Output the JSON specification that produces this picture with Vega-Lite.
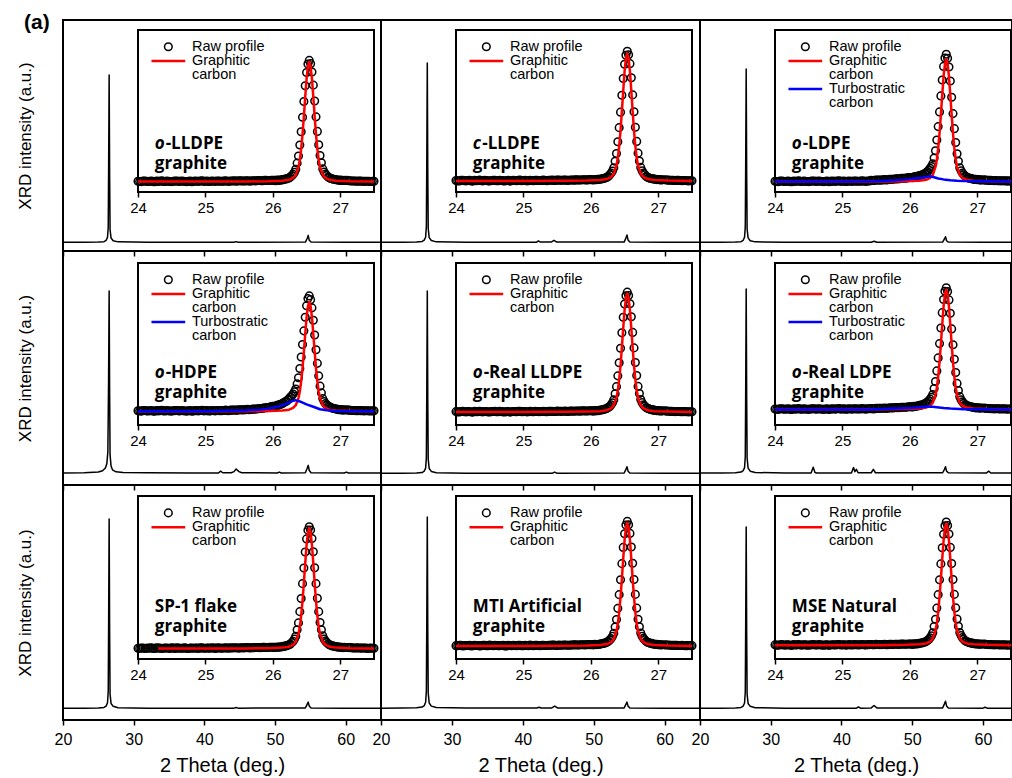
{
"$schema":"https://vega.github.io/schema/vega-lite/v6.json",
"padding":{"left":15,"top":10,"right":0,"bottom":0},
"background":"#ffffff",
"config":{
"view":{"stroke":"#000","strokeWidth":2},
"axis":{"grid":false,"domain":false,"labelFlush":false,"labelOverlap":false,"labelFont":"Liberation Sans","titleFont":"Liberation Sans","titleFontWeight":"normal","labelColor":"#000","titleColor":"#000","tickColor":"#000"},
"text":{"font":"Liberation Sans","color":"#000","fontSize":14},
"point":{"shape":"circle","filled":false,"size":58,"strokeWidth":1.5,"color":"#000","opacity":1},
"line":{"strokeJoin":"round"}
},
"datasets":{
"m1":[{"t":20,"i":0.003},{"t":23,"i":0.003},{"t":25,"i":0.004},{"t":25.8,"i":0.006},{"t":26.1,"i":0.012},{"t":26.3,"i":0.025},{"t":26.4,"i":0.07},{"t":26.46,"i":0.35},{"t":26.53,"i":0.753},{"t":26.6,"i":0.3},{"t":26.66,"i":0.06},{"t":26.8,"i":0.022},{"t":27.1,"i":0.01},{"t":27.8,"i":0.005},{"t":32,"i":0.003},{"t":44.2,"i":0.003},{"t":44.5,"i":0.006},{"t":44.8,"i":0.003},{"t":54.3,"i":0.004},{"t":54.55,"i":0.02},{"t":54.7,"i":0.034},{"t":54.85,"i":0.012},{"t":55.1,"i":0.004},{"t":60,"i":0.003},{"t":65,"i":0.003}],
"m2":[{"t":20,"i":0.003},{"t":23,"i":0.003},{"t":25,"i":0.004},{"t":25.8,"i":0.007},{"t":26.1,"i":0.013},{"t":26.3,"i":0.027},{"t":26.4,"i":0.075},{"t":26.46,"i":0.38},{"t":26.53,"i":0.807},{"t":26.6,"i":0.32},{"t":26.66,"i":0.065},{"t":26.8,"i":0.024},{"t":27.1,"i":0.011},{"t":27.8,"i":0.005},{"t":32,"i":0.003},{"t":41.9,"i":0.003},{"t":42.2,"i":0.009},{"t":42.5,"i":0.004},{"t":44,"i":0.004},{"t":44.4,"i":0.012},{"t":44.8,"i":0.004},{"t":54.3,"i":0.004},{"t":54.55,"i":0.022},{"t":54.7,"i":0.036},{"t":54.85,"i":0.013},{"t":55.1,"i":0.004},{"t":60,"i":0.003},{"t":65,"i":0.003}],
"m3":[{"t":20,"i":0.003},{"t":23,"i":0.003},{"t":25,"i":0.004},{"t":25.8,"i":0.006},{"t":26.1,"i":0.012},{"t":26.3,"i":0.026},{"t":26.4,"i":0.072},{"t":26.46,"i":0.36},{"t":26.53,"i":0.78},{"t":26.6,"i":0.31},{"t":26.66,"i":0.062},{"t":26.8,"i":0.023},{"t":27.1,"i":0.01},{"t":27.8,"i":0.005},{"t":32,"i":0.003},{"t":44.2,"i":0.003},{"t":44.6,"i":0.008},{"t":45,"i":0.003},{"t":54.3,"i":0.004},{"t":54.55,"i":0.018},{"t":54.7,"i":0.028},{"t":54.85,"i":0.01},{"t":55.1,"i":0.004},{"t":60,"i":0.003},{"t":65,"i":0.003}],
"m4":[{"t":20,"i":0.004},{"t":23,"i":0.005},{"t":25,"i":0.008},{"t":25.6,"i":0.014},{"t":26,"i":0.026},{"t":26.2,"i":0.045},{"t":26.35,"i":0.1},{"t":26.45,"i":0.42},{"t":26.53,"i":0.82},{"t":26.6,"i":0.36},{"t":26.66,"i":0.085},{"t":26.8,"i":0.035},{"t":27,"i":0.018},{"t":27.5,"i":0.009},{"t":28.5,"i":0.006},{"t":32,"i":0.005},{"t":38,"i":0.004},{"t":42,"i":0.004},{"t":42.3,"i":0.012},{"t":42.6,"i":0.005},{"t":43.8,"i":0.005},{"t":44.2,"i":0.01},{"t":44.5,"i":0.022},{"t":44.9,"i":0.01},{"t":45.3,"i":0.005},{"t":50.3,"i":0.004},{"t":50.6,"i":0.008},{"t":50.9,"i":0.004},{"t":54.3,"i":0.005},{"t":54.55,"i":0.025},{"t":54.7,"i":0.038},{"t":54.85,"i":0.015},{"t":55.1,"i":0.005},{"t":59.8,"i":0.004},{"t":60.1,"i":0.008},{"t":60.4,"i":0.004},{"t":65,"i":0.004}],
"m5":[{"t":20,"i":0.003},{"t":23,"i":0.003},{"t":25,"i":0.004},{"t":25.8,"i":0.006},{"t":26.1,"i":0.012},{"t":26.3,"i":0.026},{"t":26.4,"i":0.075},{"t":26.46,"i":0.38},{"t":26.53,"i":0.82},{"t":26.6,"i":0.33},{"t":26.66,"i":0.065},{"t":26.8,"i":0.024},{"t":27.1,"i":0.011},{"t":27.8,"i":0.005},{"t":32,"i":0.003},{"t":44.2,"i":0.003},{"t":44.5,"i":0.008},{"t":44.8,"i":0.003},{"t":54.3,"i":0.004},{"t":54.55,"i":0.02},{"t":54.7,"i":0.032},{"t":54.85,"i":0.012},{"t":55.1,"i":0.004},{"t":60,"i":0.003},{"t":65,"i":0.003}],
"m6":[{"t":20,"i":0.004},{"t":23,"i":0.004},{"t":25,"i":0.005},{"t":25.8,"i":0.008},{"t":26.1,"i":0.014},{"t":26.3,"i":0.028},{"t":26.4,"i":0.078},{"t":26.46,"i":0.38},{"t":26.53,"i":0.83},{"t":26.6,"i":0.34},{"t":26.66,"i":0.07},{"t":26.8,"i":0.026},{"t":27.1,"i":0.012},{"t":27.8,"i":0.006},{"t":32,"i":0.004},{"t":35.7,"i":0.004},{"t":36,"i":0.03},{"t":36.25,"i":0.006},{"t":36.5,"i":0.004},{"t":41.4,"i":0.004},{"t":41.7,"i":0.028},{"t":41.9,"i":0.01},{"t":42.1,"i":0.02},{"t":42.35,"i":0.005},{"t":44.2,"i":0.005},{"t":44.5,"i":0.02},{"t":44.8,"i":0.005},{"t":54.3,"i":0.005},{"t":54.55,"i":0.02},{"t":54.7,"i":0.032},{"t":54.85,"i":0.012},{"t":55.1,"i":0.005},{"t":60.5,"i":0.004},{"t":60.8,"i":0.012},{"t":61.1,"i":0.004},{"t":65,"i":0.004}],
"m7":[{"t":20,"i":0.003},{"t":23,"i":0.003},{"t":25,"i":0.004},{"t":25.8,"i":0.006},{"t":26.1,"i":0.012},{"t":26.3,"i":0.027},{"t":26.4,"i":0.078},{"t":26.46,"i":0.4},{"t":26.53,"i":0.848},{"t":26.6,"i":0.34},{"t":26.66,"i":0.066},{"t":26.8,"i":0.024},{"t":27.1,"i":0.011},{"t":27.8,"i":0.005},{"t":32,"i":0.003},{"t":44.2,"i":0.003},{"t":44.5,"i":0.006},{"t":44.8,"i":0.003},{"t":54.3,"i":0.004},{"t":54.55,"i":0.02},{"t":54.7,"i":0.03},{"t":54.85,"i":0.012},{"t":55.1,"i":0.004},{"t":60,"i":0.003},{"t":65,"i":0.003}],
"m8":[{"t":20,"i":0.003},{"t":23,"i":0.004},{"t":25,"i":0.005},{"t":25.8,"i":0.008},{"t":26.1,"i":0.014},{"t":26.3,"i":0.03},{"t":26.4,"i":0.08},{"t":26.46,"i":0.4},{"t":26.53,"i":0.857},{"t":26.6,"i":0.35},{"t":26.66,"i":0.07},{"t":26.8,"i":0.026},{"t":27.1,"i":0.012},{"t":27.8,"i":0.006},{"t":32,"i":0.004},{"t":42,"i":0.004},{"t":42.3,"i":0.007},{"t":42.6,"i":0.004},{"t":44.1,"i":0.004},{"t":44.5,"i":0.012},{"t":44.9,"i":0.004},{"t":54.3,"i":0.004},{"t":54.55,"i":0.02},{"t":54.7,"i":0.03},{"t":54.85,"i":0.012},{"t":55.1,"i":0.004},{"t":60,"i":0.003},{"t":65,"i":0.003}],
"m9":[{"t":20,"i":0.003},{"t":23,"i":0.003},{"t":25,"i":0.004},{"t":25.8,"i":0.006},{"t":26.1,"i":0.012},{"t":26.3,"i":0.026},{"t":26.4,"i":0.075},{"t":26.46,"i":0.38},{"t":26.53,"i":0.812},{"t":26.6,"i":0.33},{"t":26.66,"i":0.065},{"t":26.8,"i":0.024},{"t":27.1,"i":0.011},{"t":27.8,"i":0.005},{"t":32,"i":0.003},{"t":42.1,"i":0.003},{"t":42.4,"i":0.008},{"t":42.7,"i":0.003},{"t":44.2,"i":0.004},{"t":44.6,"i":0.015},{"t":45,"i":0.004},{"t":54.3,"i":0.004},{"t":54.55,"i":0.022},{"t":54.7,"i":0.034},{"t":54.85,"i":0.013},{"t":55.1,"i":0.004},{"t":60,"i":0.003},{"t":60.3,"i":0.007},{"t":60.6,"i":0.003},{"t":65,"i":0.003}],
"r1":[{"t":24,"i":0.6},{"t":24.05,"i":0.3},{"t":24.1,"i":0.8},{"t":24.15,"i":0.4},{"t":24.2,"i":0.7},{"t":24.25,"i":0.2},{"t":24.3,"i":0.5},{"t":24.35,"i":0.9},{"t":24.4,"i":0.4},{"t":24.45,"i":0.6},{"t":24.5,"i":0.3},{"t":24.55,"i":0.7},{"t":24.6,"i":0.5},{"t":24.65,"i":0.8},{"t":24.7,"i":0.4},{"t":24.75,"i":0.6},{"t":24.8,"i":0.2},{"t":24.85,"i":0.7},{"t":24.9,"i":0.5},{"t":24.95,"i":0.9},{"t":25,"i":0.6},{"t":25.05,"i":0.4},{"t":25.1,"i":0.8},{"t":25.15,"i":0.5},{"t":25.2,"i":0.7},{"t":25.25,"i":0.6},{"t":25.3,"i":0.9},{"t":25.35,"i":0.5},{"t":25.4,"i":0.8},{"t":25.45,"i":0.7},{"t":25.5,"i":1.0},{"t":25.55,"i":0.8},{"t":25.6,"i":0.9},{"t":25.65,"i":0.7},{"t":25.7,"i":1.0},{"t":25.75,"i":0.9},{"t":25.8,"i":1.1},{"t":25.85,"i":1.0},{"t":25.9,"i":1.2},{"t":25.95,"i":1.1},{"t":26,"i":1.3},{"t":26.02,"i":1.2},{"t":26.04,"i":1.0},{"t":26.06,"i":1.4},{"t":26.08,"i":1.2},{"t":26.1,"i":1.5},{"t":26.12,"i":1.4},{"t":26.14,"i":1.8},{"t":26.16,"i":1.8},{"t":26.18,"i":2.2},{"t":26.2,"i":2.3},{"t":26.22,"i":2.8},{"t":26.24,"i":3.1},{"t":26.26,"i":3.9},{"t":26.28,"i":4.7},{"t":26.3,"i":5.9},{"t":26.32,"i":7.5},{"t":26.34,"i":9.8},{"t":26.36,"i":14.5},{"t":26.38,"i":20.0},{"t":26.4,"i":28.4},{"t":26.42,"i":38.6},{"t":26.44,"i":49.8},{"t":26.46,"i":61.9},{"t":26.48,"i":74.0},{"t":26.5,"i":84.2},{"t":26.52,"i":90.7},{"t":26.54,"i":93.5},{"t":26.56,"i":91.0},{"t":26.58,"i":84.6},{"t":26.6,"i":74.5},{"t":26.62,"i":62.3},{"t":26.64,"i":50.1},{"t":26.66,"i":38.9},{"t":26.68,"i":28.6},{"t":26.7,"i":20.3},{"t":26.72,"i":14.8},{"t":26.74,"i":10.1},{"t":26.76,"i":7.7},{"t":26.78,"i":6.1},{"t":26.8,"i":4.9},{"t":26.82,"i":3.8},{"t":26.84,"i":3.2},{"t":26.86,"i":2.7},{"t":26.88,"i":2.4},{"t":26.9,"i":2.1},{"t":26.92,"i":1.9},{"t":26.94,"i":1.7},{"t":26.96,"i":1.5},{"t":26.98,"i":1.3},{"t":27,"i":1.4},{"t":27.02,"i":1.2},{"t":27.04,"i":1.1},{"t":27.06,"i":1.2},{"t":27.1,"i":1.2},{"t":27.15,"i":0.9},{"t":27.2,"i":0.8},{"t":27.25,"i":0.6},{"t":27.3,"i":0.7},{"t":27.35,"i":0.5},{"t":27.4,"i":0.6},{"t":27.45,"i":0.4},{"t":27.5,"i":0.5},
{"t":24.025,"i":0.4},{"t":24.075,"i":0.7},{"t":24.125,"i":0.5},{"t":24.175,"i":0.6},{"t":24.225,"i":0.3},{"t":24.275,"i":0.8},{"t":24.325,"i":0.6},{"t":24.375,"i":0.5},{"t":24.425,"i":0.7},{"t":24.475,"i":0.4},{"t":24.525,"i":0.6},{"t":24.575,"i":0.8},{"t":24.625,"i":0.5},{"t":24.675,"i":0.6},{"t":24.725,"i":0.3},{"t":24.775,"i":0.7},{"t":24.825,"i":0.5},{"t":24.875,"i":0.6},{"t":24.925,"i":0.8},{"t":24.975,"i":0.5},{"t":25.025,"i":0.7},{"t":25.075,"i":0.5},{"t":25.125,"i":0.6},{"t":25.175,"i":0.8},{"t":25.225,"i":0.6},{"t":25.275,"i":0.7},{"t":25.325,"i":0.6},{"t":25.375,"i":0.8},{"t":25.425,"i":0.9},{"t":25.475,"i":0.7},{"t":25.525,"i":0.9},{"t":25.575,"i":0.8},{"t":25.625,"i":1.0},{"t":25.675,"i":0.8},{"t":25.725,"i":1.0},{"t":25.775,"i":1.1},{"t":25.825,"i":1.0},{"t":25.875,"i":1.2},{"t":25.925,"i":1.1},{"t":25.975,"i":1.3},{"t":27.125,"i":1.0},{"t":27.175,"i":0.8},{"t":27.225,"i":0.7},{"t":27.275,"i":0.7},{"t":27.325,"i":0.6},{"t":27.375,"i":0.6},{"t":27.425,"i":0.5},{"t":27.475,"i":0.5}],
"r2":[{"t":24,"i":1.1},{"t":24.05,"i":0.8},{"t":24.1,"i":1.3},{"t":24.15,"i":0.9},{"t":24.2,"i":1.2},{"t":24.25,"i":0.7},{"t":24.3,"i":1.0},{"t":24.35,"i":1.4},{"t":24.4,"i":0.9},{"t":24.45,"i":1.1},{"t":24.5,"i":0.8},{"t":24.55,"i":1.2},{"t":24.6,"i":1.0},{"t":24.65,"i":1.3},{"t":24.7,"i":0.9},{"t":24.75,"i":1.1},{"t":24.8,"i":0.7},{"t":24.85,"i":1.2},{"t":24.9,"i":1.0},{"t":24.95,"i":1.4},{"t":25,"i":1.1},{"t":25.05,"i":0.9},{"t":25.1,"i":1.3},{"t":25.15,"i":1.0},{"t":25.2,"i":1.2},{"t":25.25,"i":1.1},{"t":25.3,"i":1.4},{"t":25.35,"i":1.0},{"t":25.4,"i":1.3},{"t":25.45,"i":1.2},{"t":25.5,"i":1.5},{"t":25.55,"i":1.3},{"t":25.6,"i":1.4},{"t":25.65,"i":1.2},{"t":25.7,"i":1.5},{"t":25.75,"i":1.4},{"t":25.8,"i":1.6},{"t":25.85,"i":1.5},{"t":25.9,"i":1.7},{"t":25.95,"i":1.6},{"t":26,"i":1.8},{"t":26.02,"i":1.7},{"t":26.04,"i":1.5},{"t":26.06,"i":1.9},{"t":26.08,"i":1.7},{"t":26.1,"i":2.0},{"t":26.12,"i":1.9},{"t":26.14,"i":2.3},{"t":26.16,"i":2.3},{"t":26.18,"i":2.7},{"t":26.2,"i":2.8},{"t":26.22,"i":3.3},{"t":26.24,"i":3.6},{"t":26.26,"i":4.4},{"t":26.28,"i":5.5},{"t":26.3,"i":6.8},{"t":26.32,"i":8.5},{"t":26.34,"i":11.0},{"t":26.36,"i":15.9},{"t":26.38,"i":21.9},{"t":26.4,"i":30.9},{"t":26.42,"i":41.8},{"t":26.44,"i":53.7},{"t":26.46,"i":66.7},{"t":26.48,"i":79.6},{"t":26.5,"i":90.6},{"t":26.52,"i":97.5},{"t":26.54,"i":100.5},{"t":26.56,"i":97.8},{"t":26.58,"i":91.0},{"t":26.6,"i":80.1},{"t":26.62,"i":67.0},{"t":26.64,"i":54.0},{"t":26.66,"i":42.1},{"t":26.68,"i":31.2},{"t":26.7,"i":22.2},{"t":26.72,"i":16.1},{"t":26.74,"i":11.2},{"t":26.76,"i":8.6},{"t":26.78,"i":6.9},{"t":26.8,"i":5.6},{"t":26.82,"i":4.3},{"t":26.84,"i":3.7},{"t":26.86,"i":3.2},{"t":26.88,"i":2.9},{"t":26.9,"i":2.6},{"t":26.92,"i":2.4},{"t":26.94,"i":2.2},{"t":26.96,"i":2.0},{"t":26.98,"i":1.8},{"t":27,"i":1.9},{"t":27.02,"i":1.7},{"t":27.04,"i":1.6},{"t":27.06,"i":1.7},{"t":27.1,"i":1.7},{"t":27.15,"i":1.4},{"t":27.2,"i":1.3},{"t":27.25,"i":1.1},{"t":27.3,"i":1.2},{"t":27.35,"i":1.0},{"t":27.4,"i":1.1},{"t":27.45,"i":0.9},{"t":27.5,"i":1.0},
{"t":24.025,"i":0.9},{"t":24.075,"i":1.2},{"t":24.125,"i":1.0},{"t":24.175,"i":1.1},{"t":24.225,"i":0.8},{"t":24.275,"i":1.3},{"t":24.325,"i":1.1},{"t":24.375,"i":1.0},{"t":24.425,"i":1.2},{"t":24.475,"i":0.9},{"t":24.525,"i":1.1},{"t":24.575,"i":1.3},{"t":24.625,"i":1.0},{"t":24.675,"i":1.1},{"t":24.725,"i":0.8},{"t":24.775,"i":1.2},{"t":24.825,"i":1.0},{"t":24.875,"i":1.1},{"t":24.925,"i":1.3},{"t":24.975,"i":1.0},{"t":25.025,"i":1.2},{"t":25.075,"i":1.0},{"t":25.125,"i":1.1},{"t":25.175,"i":1.3},{"t":25.225,"i":1.1},{"t":25.275,"i":1.2},{"t":25.325,"i":1.1},{"t":25.375,"i":1.3},{"t":25.425,"i":1.4},{"t":25.475,"i":1.2},{"t":25.525,"i":1.4},{"t":25.575,"i":1.3},{"t":25.625,"i":1.5},{"t":25.675,"i":1.3},{"t":25.725,"i":1.5},{"t":25.775,"i":1.6},{"t":25.825,"i":1.5},{"t":25.875,"i":1.7},{"t":25.925,"i":1.6},{"t":25.975,"i":1.8},{"t":27.125,"i":1.5},{"t":27.175,"i":1.3},{"t":27.225,"i":1.2},{"t":27.275,"i":1.2},{"t":27.325,"i":1.1},{"t":27.375,"i":1.1},{"t":27.425,"i":1.0},{"t":27.475,"i":1.0}],
"r3":[{"t":24,"i":0.6},{"t":24.05,"i":0.3},{"t":24.1,"i":0.8},{"t":24.15,"i":0.4},{"t":24.2,"i":0.7},{"t":24.25,"i":0.2},{"t":24.3,"i":0.5},{"t":24.35,"i":0.9},{"t":24.4,"i":0.4},{"t":24.45,"i":0.6},{"t":24.5,"i":0.3},{"t":24.55,"i":0.7},{"t":24.6,"i":0.5},{"t":24.65,"i":0.8},{"t":24.7,"i":0.4},{"t":24.75,"i":0.6},{"t":24.8,"i":0.2},{"t":24.85,"i":0.7},{"t":24.9,"i":0.5},{"t":24.95,"i":0.9},{"t":25,"i":0.6},{"t":25.05,"i":0.4},{"t":25.1,"i":0.8},{"t":25.15,"i":0.5},{"t":25.2,"i":0.7},{"t":25.25,"i":0.6},{"t":25.3,"i":0.9},{"t":25.35,"i":0.5},{"t":25.4,"i":0.8},{"t":25.45,"i":1.1},{"t":25.5,"i":1.5},{"t":25.55,"i":1.4},{"t":25.6,"i":1.6},{"t":25.65,"i":1.6},{"t":25.7,"i":2.0},{"t":25.75,"i":2.1},{"t":25.8,"i":2.4},{"t":25.85,"i":2.5},{"t":25.9,"i":2.9},{"t":25.95,"i":3.0},{"t":26,"i":3.5},{"t":26.02,"i":3.5},{"t":26.04,"i":3.4},{"t":26.06,"i":3.9},{"t":26.08,"i":3.9},{"t":26.1,"i":4.3},{"t":26.12,"i":4.3},{"t":26.14,"i":4.9},{"t":26.16,"i":5.0},{"t":26.18,"i":5.6},{"t":26.2,"i":5.8},{"t":26.22,"i":6.5},{"t":26.24,"i":7.0},{"t":26.26,"i":8.0},{"t":26.28,"i":9.1},{"t":26.3,"i":10.5},{"t":26.32,"i":11.9},{"t":26.34,"i":14.0},{"t":26.36,"i":18.5},{"t":26.38,"i":24.0},{"t":26.4,"i":32.3},{"t":26.42,"i":42.6},{"t":26.44,"i":53.9},{"t":26.46,"i":66.2},{"t":26.48,"i":78.4},{"t":26.5,"i":88.9},{"t":26.52,"i":95.4},{"t":26.54,"i":98.2},{"t":26.56,"i":95.2},{"t":26.58,"i":88.4},{"t":26.6,"i":77.7},{"t":26.62,"i":65.2},{"t":26.64,"i":52.6},{"t":26.66,"i":41.0},{"t":26.68,"i":30.4},{"t":26.7,"i":21.7},{"t":26.72,"i":15.9},{"t":26.74,"i":11.0},{"t":26.76,"i":8.6},{"t":26.78,"i":6.9},{"t":26.8,"i":5.6},{"t":26.82,"i":4.6},{"t":26.84,"i":3.8},{"t":26.86,"i":3.4},{"t":26.88,"i":2.9},{"t":26.9,"i":2.8},{"t":26.92,"i":2.4},{"t":26.94,"i":2.3},{"t":26.96,"i":1.9},{"t":26.98,"i":2.0},{"t":27,"i":1.7},{"t":27.02,"i":1.9},{"t":27.04,"i":1.5},{"t":27.06,"i":1.6},{"t":27.1,"i":1.6},{"t":27.15,"i":1.3},{"t":27.2,"i":1.2},{"t":27.25,"i":1.0},{"t":27.3,"i":1.0},{"t":27.35,"i":0.9},{"t":27.4,"i":0.9},{"t":27.45,"i":0.7},{"t":27.5,"i":0.8},
{"t":24.025,"i":0.4},{"t":24.075,"i":0.7},{"t":24.125,"i":0.5},{"t":24.175,"i":0.6},{"t":24.225,"i":0.3},{"t":24.275,"i":0.8},{"t":24.325,"i":0.6},{"t":24.375,"i":0.5},{"t":24.425,"i":0.7},{"t":24.475,"i":0.4},{"t":24.525,"i":0.6},{"t":24.575,"i":0.8},{"t":24.625,"i":0.5},{"t":24.675,"i":0.6},{"t":24.725,"i":0.3},{"t":24.775,"i":0.7},{"t":24.825,"i":0.5},{"t":24.875,"i":0.6},{"t":24.925,"i":0.8},{"t":24.975,"i":0.5},{"t":25.025,"i":0.7},{"t":25.075,"i":0.5},{"t":25.125,"i":0.6},{"t":25.175,"i":0.8},{"t":25.225,"i":0.6},{"t":25.275,"i":0.7},{"t":25.325,"i":0.6},{"t":25.375,"i":0.8},{"t":25.425,"i":1.3},{"t":25.475,"i":1.2},{"t":25.525,"i":1.5},{"t":25.575,"i":1.5},{"t":25.625,"i":1.8},{"t":25.675,"i":1.7},{"t":25.725,"i":2.1},{"t":25.775,"i":2.3},{"t":25.825,"i":2.4},{"t":25.875,"i":2.8},{"t":25.925,"i":2.9},{"t":25.975,"i":3.4},{"t":27.125,"i":1.4},{"t":27.175,"i":1.2},{"t":27.225,"i":1.1},{"t":27.275,"i":1.1},{"t":27.325,"i":1.0},{"t":27.375,"i":1.0},{"t":27.425,"i":0.9},{"t":27.475,"i":0.9}],
"r4":[{"t":24,"i":3.3},{"t":24.05,"i":3.0},{"t":24.1,"i":3.5},{"t":24.15,"i":3.1},{"t":24.2,"i":3.4},{"t":24.25,"i":2.9},{"t":24.3,"i":3.2},{"t":24.35,"i":3.6},{"t":24.4,"i":3.1},{"t":24.45,"i":3.3},{"t":24.5,"i":3.0},{"t":24.55,"i":3.4},{"t":24.6,"i":3.2},{"t":24.65,"i":3.5},{"t":24.7,"i":3.1},{"t":24.75,"i":3.3},{"t":24.8,"i":2.9},{"t":24.85,"i":3.4},{"t":24.9,"i":3.2},{"t":24.95,"i":3.6},{"t":25,"i":3.3},{"t":25.05,"i":3.1},{"t":25.1,"i":3.5},{"t":25.15,"i":3.2},{"t":25.2,"i":3.4},{"t":25.25,"i":3.4},{"t":25.3,"i":3.7},{"t":25.35,"i":3.4},{"t":25.4,"i":3.7},{"t":25.45,"i":3.7},{"t":25.5,"i":4.0},{"t":25.55,"i":3.9},{"t":25.6,"i":4.1},{"t":25.65,"i":4.0},{"t":25.7,"i":4.5},{"t":25.75,"i":4.5},{"t":25.8,"i":4.9},{"t":25.85,"i":5.1},{"t":25.9,"i":5.6},{"t":25.95,"i":5.9},{"t":26,"i":6.6},{"t":26.02,"i":6.7},{"t":26.04,"i":6.7},{"t":26.06,"i":7.4},{"t":26.08,"i":7.4},{"t":26.1,"i":8.0},{"t":26.12,"i":8.2},{"t":26.14,"i":8.9},{"t":26.16,"i":9.3},{"t":26.18,"i":10.1},{"t":26.2,"i":10.6},{"t":26.22,"i":11.6},{"t":26.24,"i":12.4},{"t":26.26,"i":13.8},{"t":26.28,"i":14.7},{"t":26.3,"i":16.1},{"t":26.32,"i":17.9},{"t":26.34,"i":20.0},{"t":26.36,"i":23.9},{"t":26.38,"i":28.6},{"t":26.4,"i":35.8},{"t":26.42,"i":44.6},{"t":26.44,"i":54.2},{"t":26.46,"i":64.7},{"t":26.48,"i":75.2},{"t":26.5,"i":84.0},{"t":26.52,"i":89.5},{"t":26.54,"i":91.6},{"t":26.56,"i":88.7},{"t":26.58,"i":82.4},{"t":26.6,"i":72.9},{"t":26.62,"i":61.5},{"t":26.64,"i":50.2},{"t":26.66,"i":39.7},{"t":26.68,"i":30.1},{"t":26.7,"i":22.2},{"t":26.72,"i":17.0},{"t":26.74,"i":12.6},{"t":26.76,"i":10.3},{"t":26.78,"i":8.8},{"t":26.8,"i":7.6},{"t":26.82,"i":7.0},{"t":26.84,"i":6.3},{"t":26.86,"i":5.7},{"t":26.88,"i":5.4},{"t":26.9,"i":5.0},{"t":26.92,"i":4.8},{"t":26.94,"i":4.5},{"t":26.96,"i":4.3},{"t":26.98,"i":4.1},{"t":27,"i":4.2},{"t":27.02,"i":3.9},{"t":27.04,"i":3.8},{"t":27.06,"i":3.9},{"t":27.1,"i":3.9},{"t":27.15,"i":3.6},{"t":27.2,"i":3.5},{"t":27.25,"i":3.3},{"t":27.3,"i":3.4},{"t":27.35,"i":3.2},{"t":27.4,"i":3.3},{"t":27.45,"i":3.1},{"t":27.5,"i":3.2},
{"t":24.025,"i":3.1},{"t":24.075,"i":3.4},{"t":24.125,"i":3.2},{"t":24.175,"i":3.3},{"t":24.225,"i":3.0},{"t":24.275,"i":3.5},{"t":24.325,"i":3.3},{"t":24.375,"i":3.2},{"t":24.425,"i":3.4},{"t":24.475,"i":3.1},{"t":24.525,"i":3.3},{"t":24.575,"i":3.5},{"t":24.625,"i":3.2},{"t":24.675,"i":3.3},{"t":24.725,"i":3.0},{"t":24.775,"i":3.4},{"t":24.825,"i":3.2},{"t":24.875,"i":3.3},{"t":24.925,"i":3.5},{"t":24.975,"i":3.2},{"t":25.025,"i":3.4},{"t":25.075,"i":3.2},{"t":25.125,"i":3.3},{"t":25.175,"i":3.5},{"t":25.225,"i":3.3},{"t":25.275,"i":3.5},{"t":25.325,"i":3.4},{"t":25.375,"i":3.7},{"t":25.425,"i":3.8},{"t":25.475,"i":3.7},{"t":25.525,"i":4.0},{"t":25.575,"i":4.0},{"t":25.625,"i":4.3},{"t":25.675,"i":4.2},{"t":25.725,"i":4.5},{"t":25.775,"i":4.8},{"t":25.825,"i":5.0},{"t":25.875,"i":5.5},{"t":25.925,"i":5.7},{"t":25.975,"i":6.4},{"t":27.125,"i":3.7},{"t":27.175,"i":3.5},{"t":27.225,"i":3.4},{"t":27.275,"i":3.4},{"t":27.325,"i":3.3},{"t":27.375,"i":3.3},{"t":27.425,"i":3.2},{"t":27.475,"i":3.2}],
"r5":[{"t":24,"i":2.6},{"t":24.05,"i":2.3},{"t":24.1,"i":2.8},{"t":24.15,"i":2.4},{"t":24.2,"i":2.7},{"t":24.25,"i":2.2},{"t":24.3,"i":2.5},{"t":24.35,"i":2.9},{"t":24.4,"i":2.4},{"t":24.45,"i":2.6},{"t":24.5,"i":2.3},{"t":24.55,"i":2.7},{"t":24.6,"i":2.5},{"t":24.65,"i":2.8},{"t":24.7,"i":2.4},{"t":24.75,"i":2.6},{"t":24.8,"i":2.2},{"t":24.85,"i":2.7},{"t":24.9,"i":2.5},{"t":24.95,"i":2.9},{"t":25,"i":2.6},{"t":25.05,"i":2.4},{"t":25.1,"i":2.8},{"t":25.15,"i":2.5},{"t":25.2,"i":2.7},{"t":25.25,"i":2.6},{"t":25.3,"i":2.9},{"t":25.35,"i":2.5},{"t":25.4,"i":2.8},{"t":25.45,"i":2.7},{"t":25.5,"i":3.0},{"t":25.55,"i":2.8},{"t":25.6,"i":2.9},{"t":25.65,"i":2.7},{"t":25.7,"i":3.0},{"t":25.75,"i":2.9},{"t":25.8,"i":3.1},{"t":25.85,"i":3.0},{"t":25.9,"i":3.2},{"t":25.95,"i":3.1},{"t":26,"i":3.3},{"t":26.02,"i":3.2},{"t":26.04,"i":3.0},{"t":26.06,"i":3.4},{"t":26.08,"i":3.2},{"t":26.1,"i":3.5},{"t":26.12,"i":3.4},{"t":26.14,"i":3.8},{"t":26.16,"i":3.8},{"t":26.18,"i":4.2},{"t":26.2,"i":4.3},{"t":26.22,"i":4.8},{"t":26.24,"i":5.1},{"t":26.26,"i":5.9},{"t":26.28,"i":6.6},{"t":26.3,"i":7.8},{"t":26.32,"i":9.4},{"t":26.34,"i":11.7},{"t":26.36,"i":16.3},{"t":26.38,"i":21.8},{"t":26.4,"i":30.1},{"t":26.42,"i":40.2},{"t":26.44,"i":51.3},{"t":26.46,"i":63.2},{"t":26.48,"i":75.2},{"t":26.5,"i":85.3},{"t":26.52,"i":91.7},{"t":26.54,"i":94.5},{"t":26.56,"i":91.9},{"t":26.58,"i":85.6},{"t":26.6,"i":75.5},{"t":26.62,"i":63.5},{"t":26.64,"i":51.6},{"t":26.66,"i":40.4},{"t":26.68,"i":30.3},{"t":26.7,"i":22.0},{"t":26.72,"i":16.5},{"t":26.74,"i":11.9},{"t":26.76,"i":9.5},{"t":26.78,"i":7.9},{"t":26.8,"i":6.7},{"t":26.82,"i":5.8},{"t":26.84,"i":5.2},{"t":26.86,"i":4.7},{"t":26.88,"i":4.4},{"t":26.9,"i":4.1},{"t":26.92,"i":3.9},{"t":26.94,"i":3.7},{"t":26.96,"i":3.5},{"t":26.98,"i":3.3},{"t":27,"i":3.4},{"t":27.02,"i":3.2},{"t":27.04,"i":3.1},{"t":27.06,"i":3.2},{"t":27.1,"i":3.2},{"t":27.15,"i":2.9},{"t":27.2,"i":2.8},{"t":27.25,"i":2.6},{"t":27.3,"i":2.7},{"t":27.35,"i":2.5},{"t":27.4,"i":2.6},{"t":27.45,"i":2.4},{"t":27.5,"i":2.5},
{"t":24.025,"i":2.4},{"t":24.075,"i":2.7},{"t":24.125,"i":2.5},{"t":24.175,"i":2.6},{"t":24.225,"i":2.3},{"t":24.275,"i":2.8},{"t":24.325,"i":2.6},{"t":24.375,"i":2.5},{"t":24.425,"i":2.7},{"t":24.475,"i":2.4},{"t":24.525,"i":2.6},{"t":24.575,"i":2.8},{"t":24.625,"i":2.5},{"t":24.675,"i":2.6},{"t":24.725,"i":2.3},{"t":24.775,"i":2.7},{"t":24.825,"i":2.5},{"t":24.875,"i":2.6},{"t":24.925,"i":2.8},{"t":24.975,"i":2.5},{"t":25.025,"i":2.7},{"t":25.075,"i":2.5},{"t":25.125,"i":2.6},{"t":25.175,"i":2.8},{"t":25.225,"i":2.6},{"t":25.275,"i":2.7},{"t":25.325,"i":2.6},{"t":25.375,"i":2.8},{"t":25.425,"i":2.9},{"t":25.475,"i":2.7},{"t":25.525,"i":2.9},{"t":25.575,"i":2.8},{"t":25.625,"i":3.0},{"t":25.675,"i":2.8},{"t":25.725,"i":3.0},{"t":25.775,"i":3.1},{"t":25.825,"i":3.0},{"t":25.875,"i":3.2},{"t":25.925,"i":3.1},{"t":25.975,"i":3.3},{"t":27.125,"i":3.0},{"t":27.175,"i":2.8},{"t":27.225,"i":2.7},{"t":27.275,"i":2.7},{"t":27.325,"i":2.6},{"t":27.375,"i":2.6},{"t":27.425,"i":2.5},{"t":27.475,"i":2.5}],
"r6":[{"t":24,"i":4.6},{"t":24.05,"i":4.3},{"t":24.1,"i":4.8},{"t":24.15,"i":4.4},{"t":24.2,"i":4.7},{"t":24.25,"i":4.2},{"t":24.3,"i":4.5},{"t":24.35,"i":4.9},{"t":24.4,"i":4.4},{"t":24.45,"i":4.6},{"t":24.5,"i":4.3},{"t":24.55,"i":4.7},{"t":24.6,"i":4.5},{"t":24.65,"i":4.8},{"t":24.7,"i":4.4},{"t":24.75,"i":4.6},{"t":24.8,"i":4.2},{"t":24.85,"i":4.7},{"t":24.9,"i":4.5},{"t":24.95,"i":4.9},{"t":25,"i":4.6},{"t":25.05,"i":4.4},{"t":25.1,"i":4.8},{"t":25.15,"i":4.5},{"t":25.2,"i":4.7},{"t":25.25,"i":4.6},{"t":25.3,"i":4.9},{"t":25.35,"i":4.5},{"t":25.4,"i":4.8},{"t":25.45,"i":4.7},{"t":25.5,"i":5.2},{"t":25.55,"i":5.1},{"t":25.6,"i":5.2},{"t":25.65,"i":5.1},{"t":25.7,"i":5.5},{"t":25.75,"i":5.4},{"t":25.8,"i":5.7},{"t":25.85,"i":5.7},{"t":25.9,"i":6.0},{"t":25.95,"i":6.0},{"t":26,"i":6.3},{"t":26.02,"i":6.3},{"t":26.04,"i":6.2},{"t":26.06,"i":6.6},{"t":26.08,"i":6.5},{"t":26.1,"i":6.9},{"t":26.12,"i":6.9},{"t":26.14,"i":7.4},{"t":26.16,"i":7.4},{"t":26.18,"i":7.9},{"t":26.2,"i":8.1},{"t":26.22,"i":8.7},{"t":26.24,"i":9.1},{"t":26.26,"i":10.0},{"t":26.28,"i":10.9},{"t":26.3,"i":12.2},{"t":26.32,"i":13.6},{"t":26.34,"i":15.8},{"t":26.36,"i":20.3},{"t":26.38,"i":25.7},{"t":26.4,"i":33.9},{"t":26.42,"i":43.9},{"t":26.44,"i":54.9},{"t":26.46,"i":66.9},{"t":26.48,"i":78.7},{"t":26.5,"i":88.8},{"t":26.52,"i":95.1},{"t":26.54,"i":97.9},{"t":26.56,"i":95.0},{"t":26.58,"i":88.5},{"t":26.6,"i":78.2},{"t":26.62,"i":66.2},{"t":26.64,"i":54.0},{"t":26.66,"i":42.9},{"t":26.68,"i":32.7},{"t":26.7,"i":24.3},{"t":26.72,"i":18.8},{"t":26.74,"i":14.1},{"t":26.76,"i":11.7},{"t":26.78,"i":10.2},{"t":26.8,"i":8.9},{"t":26.82,"i":8.0},{"t":26.84,"i":7.4},{"t":26.86,"i":6.9},{"t":26.88,"i":6.6},{"t":26.9,"i":6.3},{"t":26.92,"i":6.1},{"t":26.94,"i":5.9},{"t":26.96,"i":5.7},{"t":26.98,"i":5.5},{"t":27,"i":5.6},{"t":27.02,"i":5.4},{"t":27.04,"i":5.3},{"t":27.06,"i":5.4},{"t":27.1,"i":5.3},{"t":27.15,"i":5.0},{"t":27.2,"i":4.9},{"t":27.25,"i":4.7},{"t":27.3,"i":4.8},{"t":27.35,"i":4.6},{"t":27.4,"i":4.7},{"t":27.45,"i":4.5},{"t":27.5,"i":4.6},
{"t":24.025,"i":4.4},{"t":24.075,"i":4.7},{"t":24.125,"i":4.5},{"t":24.175,"i":4.6},{"t":24.225,"i":4.3},{"t":24.275,"i":4.8},{"t":24.325,"i":4.6},{"t":24.375,"i":4.5},{"t":24.425,"i":4.7},{"t":24.475,"i":4.4},{"t":24.525,"i":4.6},{"t":24.575,"i":4.8},{"t":24.625,"i":4.5},{"t":24.675,"i":4.6},{"t":24.725,"i":4.3},{"t":24.775,"i":4.7},{"t":24.825,"i":4.5},{"t":24.875,"i":4.6},{"t":24.925,"i":4.8},{"t":24.975,"i":4.5},{"t":25.025,"i":4.7},{"t":25.075,"i":4.5},{"t":25.125,"i":4.6},{"t":25.175,"i":4.8},{"t":25.225,"i":4.6},{"t":25.275,"i":4.7},{"t":25.325,"i":4.6},{"t":25.375,"i":4.8},{"t":25.425,"i":4.9},{"t":25.475,"i":4.7},{"t":25.525,"i":5.1},{"t":25.575,"i":5.1},{"t":25.625,"i":5.3},{"t":25.675,"i":5.2},{"t":25.725,"i":5.5},{"t":25.775,"i":5.7},{"t":25.825,"i":5.7},{"t":25.875,"i":6.0},{"t":25.925,"i":6.0},{"t":25.975,"i":6.3},{"t":27.125,"i":5.1},{"t":27.175,"i":4.9},{"t":27.225,"i":4.8},{"t":27.275,"i":4.8},{"t":27.325,"i":4.7},{"t":27.375,"i":4.7},{"t":27.425,"i":4.6},{"t":27.475,"i":4.6}],
"r7":[{"t":24,"i":0.5},{"t":24.05,"i":0.7},{"t":24.1,"i":0.3},{"t":24.15,"i":0.6},{"t":24.2,"i":0.8},{"t":24.25,"i":0.4},{"t":24.3,"i":0.6},{"t":24.35,"i":0.3},{"t":24.4,"i":0.7},{"t":24.45,"i":0.5},{"t":24.5,"i":0.9},{"t":24.55,"i":0.4},{"t":24.6,"i":0.6},{"t":24.65,"i":0.5},{"t":24.7,"i":0.8},{"t":24.75,"i":0.3},{"t":24.8,"i":0.6},{"t":24.85,"i":0.7},{"t":24.9,"i":0.4},{"t":24.95,"i":0.8},{"t":25,"i":0.5},{"t":25.05,"i":0.6},{"t":25.1,"i":0.9},{"t":25.15,"i":0.4},{"t":25.2,"i":0.7},{"t":25.25,"i":0.5},{"t":25.3,"i":0.8},{"t":25.35,"i":0.6},{"t":25.4,"i":0.7},{"t":25.45,"i":0.9},{"t":25.5,"i":0.6},{"t":25.55,"i":0.8},{"t":25.6,"i":1.0},{"t":25.65,"i":0.8},{"t":25.7,"i":0.9},{"t":25.75,"i":1.1},{"t":25.8,"i":1.0},{"t":25.85,"i":1.2},{"t":25.9,"i":1.1},{"t":25.95,"i":1.3},{"t":26,"i":1.2},{"t":26.02,"i":1.3},{"t":26.04,"i":1.1},{"t":26.06,"i":1.5},{"t":26.08,"i":1.3},{"t":26.1,"i":1.4},{"t":26.12,"i":1.6},{"t":26.14,"i":1.7},{"t":26.16,"i":2.0},{"t":26.18,"i":2.1},{"t":26.2,"i":2.4},{"t":26.22,"i":2.7},{"t":26.24,"i":3.2},{"t":26.26,"i":3.8},{"t":26.28,"i":4.8},{"t":26.3,"i":5.8},{"t":26.32,"i":7.6},{"t":26.34,"i":9.7},{"t":26.36,"i":14.6},{"t":26.38,"i":19.9},{"t":26.4,"i":28.5},{"t":26.42,"i":38.5},{"t":26.44,"i":49.9},{"t":26.46,"i":61.8},{"t":26.48,"i":74.1},{"t":26.5,"i":84.1},{"t":26.52,"i":90.8},{"t":26.54,"i":93.4},{"t":26.56,"i":90.9},{"t":26.58,"i":84.4},{"t":26.6,"i":74.3},{"t":26.62,"i":62.0},{"t":26.64,"i":49.9},{"t":26.66,"i":38.7},{"t":26.68,"i":28.5},{"t":26.7,"i":20.2},{"t":26.72,"i":14.6},{"t":26.74,"i":10.0},{"t":26.76,"i":7.6},{"t":26.78,"i":6.0},{"t":26.8,"i":4.8},{"t":26.82,"i":3.9},{"t":26.84,"i":3.1},{"t":26.86,"i":2.8},{"t":26.88,"i":2.3},{"t":26.9,"i":2.2},{"t":26.92,"i":1.8},{"t":26.94,"i":1.8},{"t":26.96,"i":1.4},{"t":26.98,"i":1.5},{"t":27,"i":1.2},{"t":27.02,"i":1.3},{"t":27.04,"i":1.0},{"t":27.06,"i":1.2},{"t":27.1,"i":1.1},{"t":27.15,"i":1.0},{"t":27.2,"i":0.7},{"t":27.25,"i":0.8},{"t":27.3,"i":0.6},{"t":27.35,"i":0.7},{"t":27.4,"i":0.4},{"t":27.45,"i":0.6},{"t":27.5,"i":0.5},
{"t":24.025,"i":0.4},{"t":24.075,"i":0.7},{"t":24.125,"i":0.5},{"t":24.175,"i":0.6},{"t":24.225,"i":0.3},{"t":24.275,"i":0.8},{"t":24.325,"i":0.6},{"t":24.375,"i":0.5},{"t":24.425,"i":0.7},{"t":24.475,"i":0.4},{"t":24.525,"i":0.6},{"t":24.575,"i":0.8},{"t":24.625,"i":0.5},{"t":24.675,"i":0.6},{"t":24.725,"i":0.3},{"t":24.775,"i":0.7},{"t":24.825,"i":0.5},{"t":24.875,"i":0.6},{"t":24.925,"i":0.8},{"t":24.975,"i":0.5},{"t":25.025,"i":0.7},{"t":25.075,"i":0.5},{"t":25.125,"i":0.6},{"t":25.175,"i":0.8},{"t":25.225,"i":0.6},{"t":25.275,"i":0.7},{"t":25.325,"i":0.6},{"t":25.375,"i":0.8},{"t":25.425,"i":0.9},{"t":25.475,"i":0.7},{"t":25.525,"i":0.9},{"t":25.575,"i":0.8},{"t":25.625,"i":1.0},{"t":25.675,"i":0.8},{"t":25.725,"i":1.0},{"t":25.775,"i":1.1},{"t":25.825,"i":1.0},{"t":25.875,"i":1.2},{"t":25.925,"i":1.1},{"t":25.975,"i":1.3},{"t":27.125,"i":1.0},{"t":27.175,"i":0.8},{"t":27.225,"i":0.7},{"t":27.275,"i":0.7},{"t":27.325,"i":0.6},{"t":27.375,"i":0.6},{"t":27.425,"i":0.5},{"t":27.475,"i":0.5}],
"r8":[{"t":24,"i":2.5},{"t":24.05,"i":2.7},{"t":24.1,"i":2.3},{"t":24.15,"i":2.6},{"t":24.2,"i":2.8},{"t":24.25,"i":2.4},{"t":24.3,"i":2.6},{"t":24.35,"i":2.3},{"t":24.4,"i":2.7},{"t":24.45,"i":2.5},{"t":24.5,"i":2.9},{"t":24.55,"i":2.4},{"t":24.6,"i":2.6},{"t":24.65,"i":2.5},{"t":24.7,"i":2.8},{"t":24.75,"i":2.3},{"t":24.8,"i":2.6},{"t":24.85,"i":2.7},{"t":24.9,"i":2.4},{"t":24.95,"i":2.8},{"t":25,"i":2.5},{"t":25.05,"i":2.6},{"t":25.1,"i":2.9},{"t":25.15,"i":2.4},{"t":25.2,"i":2.7},{"t":25.25,"i":2.5},{"t":25.3,"i":2.8},{"t":25.35,"i":2.6},{"t":25.4,"i":2.7},{"t":25.45,"i":2.9},{"t":25.5,"i":2.6},{"t":25.55,"i":2.8},{"t":25.6,"i":3.0},{"t":25.65,"i":2.8},{"t":25.7,"i":2.9},{"t":25.75,"i":3.1},{"t":25.8,"i":3.0},{"t":25.85,"i":3.2},{"t":25.9,"i":3.1},{"t":25.95,"i":3.3},{"t":26,"i":3.2},{"t":26.02,"i":3.3},{"t":26.04,"i":3.1},{"t":26.06,"i":3.5},{"t":26.08,"i":3.3},{"t":26.1,"i":3.4},{"t":26.12,"i":3.6},{"t":26.14,"i":3.7},{"t":26.16,"i":4.0},{"t":26.18,"i":4.1},{"t":26.2,"i":4.4},{"t":26.22,"i":4.7},{"t":26.24,"i":5.2},{"t":26.26,"i":5.8},{"t":26.28,"i":6.8},{"t":26.3,"i":8.0},{"t":26.32,"i":9.6},{"t":26.34,"i":12.0},{"t":26.36,"i":16.8},{"t":26.38,"i":22.5},{"t":26.4,"i":31.0},{"t":26.42,"i":41.5},{"t":26.44,"i":52.9},{"t":26.46,"i":65.2},{"t":26.48,"i":77.6},{"t":26.5,"i":88.0},{"t":26.52,"i":94.7},{"t":26.54,"i":97.5},{"t":26.56,"i":94.9},{"t":26.58,"i":88.3},{"t":26.6,"i":77.9},{"t":26.62,"i":65.5},{"t":26.64,"i":53.1},{"t":26.66,"i":41.7},{"t":26.68,"i":31.2},{"t":26.7,"i":22.7},{"t":26.72,"i":17.0},{"t":26.74,"i":12.2},{"t":26.76,"i":9.7},{"t":26.78,"i":8.1},{"t":26.8,"i":6.9},{"t":26.82,"i":5.9},{"t":26.84,"i":5.1},{"t":26.86,"i":4.8},{"t":26.88,"i":4.3},{"t":26.9,"i":4.2},{"t":26.92,"i":3.8},{"t":26.94,"i":3.8},{"t":26.96,"i":3.4},{"t":26.98,"i":3.5},{"t":27,"i":3.2},{"t":27.02,"i":3.3},{"t":27.04,"i":3.0},{"t":27.06,"i":3.2},{"t":27.1,"i":3.1},{"t":27.15,"i":3.0},{"t":27.2,"i":2.7},{"t":27.25,"i":2.8},{"t":27.3,"i":2.6},{"t":27.35,"i":2.7},{"t":27.4,"i":2.4},{"t":27.45,"i":2.6},{"t":27.5,"i":2.5},
{"t":24.025,"i":2.4},{"t":24.075,"i":2.7},{"t":24.125,"i":2.5},{"t":24.175,"i":2.6},{"t":24.225,"i":2.3},{"t":24.275,"i":2.8},{"t":24.325,"i":2.6},{"t":24.375,"i":2.5},{"t":24.425,"i":2.7},{"t":24.475,"i":2.4},{"t":24.525,"i":2.6},{"t":24.575,"i":2.8},{"t":24.625,"i":2.5},{"t":24.675,"i":2.6},{"t":24.725,"i":2.3},{"t":24.775,"i":2.7},{"t":24.825,"i":2.5},{"t":24.875,"i":2.6},{"t":24.925,"i":2.8},{"t":24.975,"i":2.5},{"t":25.025,"i":2.7},{"t":25.075,"i":2.5},{"t":25.125,"i":2.6},{"t":25.175,"i":2.8},{"t":25.225,"i":2.6},{"t":25.275,"i":2.7},{"t":25.325,"i":2.6},{"t":25.375,"i":2.8},{"t":25.425,"i":2.9},{"t":25.475,"i":2.7},{"t":25.525,"i":2.9},{"t":25.575,"i":2.8},{"t":25.625,"i":3.0},{"t":25.675,"i":2.8},{"t":25.725,"i":3.0},{"t":25.775,"i":3.1},{"t":25.825,"i":3.0},{"t":25.875,"i":3.2},{"t":25.925,"i":3.1},{"t":25.975,"i":3.3},{"t":27.125,"i":3.0},{"t":27.175,"i":2.8},{"t":27.225,"i":2.7},{"t":27.275,"i":2.7},{"t":27.325,"i":2.6},{"t":27.375,"i":2.6},{"t":27.425,"i":2.5},{"t":27.475,"i":2.5}],
"r9":[{"t":24,"i":3.1},{"t":24.05,"i":2.8},{"t":24.1,"i":3.3},{"t":24.15,"i":2.9},{"t":24.2,"i":3.2},{"t":24.25,"i":2.7},{"t":24.3,"i":3.0},{"t":24.35,"i":3.4},{"t":24.4,"i":2.9},{"t":24.45,"i":3.1},{"t":24.5,"i":2.8},{"t":24.55,"i":3.2},{"t":24.6,"i":3.0},{"t":24.65,"i":3.3},{"t":24.7,"i":2.9},{"t":24.75,"i":3.1},{"t":24.8,"i":2.7},{"t":24.85,"i":3.2},{"t":24.9,"i":3.0},{"t":24.95,"i":3.4},{"t":25,"i":3.1},{"t":25.05,"i":2.9},{"t":25.1,"i":3.3},{"t":25.15,"i":3.0},{"t":25.2,"i":3.2},{"t":25.25,"i":3.1},{"t":25.3,"i":3.4},{"t":25.35,"i":3.0},{"t":25.4,"i":3.3},{"t":25.45,"i":3.2},{"t":25.5,"i":3.5},{"t":25.55,"i":3.3},{"t":25.6,"i":3.4},{"t":25.65,"i":3.2},{"t":25.7,"i":3.5},{"t":25.75,"i":3.4},{"t":25.8,"i":3.6},{"t":25.85,"i":3.5},{"t":25.9,"i":3.7},{"t":25.95,"i":3.6},{"t":26,"i":3.8},{"t":26.02,"i":3.7},{"t":26.04,"i":3.5},{"t":26.06,"i":3.9},{"t":26.08,"i":3.7},{"t":26.1,"i":4.0},{"t":26.12,"i":3.9},{"t":26.14,"i":4.3},{"t":26.16,"i":4.3},{"t":26.18,"i":4.7},{"t":26.2,"i":4.8},{"t":26.22,"i":5.3},{"t":26.24,"i":5.6},{"t":26.26,"i":6.4},{"t":26.28,"i":7.2},{"t":26.3,"i":8.5},{"t":26.32,"i":10.1},{"t":26.34,"i":12.4},{"t":26.36,"i":17.1},{"t":26.38,"i":22.7},{"t":26.4,"i":31.2},{"t":26.42,"i":41.5},{"t":26.44,"i":52.8},{"t":26.46,"i":65.0},{"t":26.48,"i":77.3},{"t":26.5,"i":87.6},{"t":26.52,"i":94.2},{"t":26.54,"i":97.0},{"t":26.56,"i":94.4},{"t":26.58,"i":87.9},{"t":26.6,"i":77.6},{"t":26.62,"i":65.3},{"t":26.64,"i":53.0},{"t":26.66,"i":41.7},{"t":26.68,"i":31.4},{"t":26.7,"i":22.9},{"t":26.72,"i":17.3},{"t":26.74,"i":12.6},{"t":26.76,"i":10.2},{"t":26.78,"i":8.6},{"t":26.8,"i":7.3},{"t":26.82,"i":6.3},{"t":26.84,"i":5.7},{"t":26.86,"i":5.2},{"t":26.88,"i":4.9},{"t":26.9,"i":4.6},{"t":26.92,"i":4.4},{"t":26.94,"i":4.2},{"t":26.96,"i":4.0},{"t":26.98,"i":3.8},{"t":27,"i":3.9},{"t":27.02,"i":3.7},{"t":27.04,"i":3.6},{"t":27.06,"i":3.7},{"t":27.1,"i":3.7},{"t":27.15,"i":3.4},{"t":27.2,"i":3.3},{"t":27.25,"i":3.1},{"t":27.3,"i":3.2},{"t":27.35,"i":3.0},{"t":27.4,"i":3.1},{"t":27.45,"i":2.9},{"t":27.5,"i":3.0},
{"t":24.025,"i":2.9},{"t":24.075,"i":3.2},{"t":24.125,"i":3.0},{"t":24.175,"i":3.1},{"t":24.225,"i":2.8},{"t":24.275,"i":3.3},{"t":24.325,"i":3.1},{"t":24.375,"i":3.0},{"t":24.425,"i":3.2},{"t":24.475,"i":2.9},{"t":24.525,"i":3.1},{"t":24.575,"i":3.3},{"t":24.625,"i":3.0},{"t":24.675,"i":3.1},{"t":24.725,"i":2.8},{"t":24.775,"i":3.2},{"t":24.825,"i":3.0},{"t":24.875,"i":3.1},{"t":24.925,"i":3.3},{"t":24.975,"i":3.0},{"t":25.025,"i":3.2},{"t":25.075,"i":3.0},{"t":25.125,"i":3.1},{"t":25.175,"i":3.3},{"t":25.225,"i":3.1},{"t":25.275,"i":3.2},{"t":25.325,"i":3.1},{"t":25.375,"i":3.3},{"t":25.425,"i":3.4},{"t":25.475,"i":3.2},{"t":25.525,"i":3.4},{"t":25.575,"i":3.3},{"t":25.625,"i":3.5},{"t":25.675,"i":3.3},{"t":25.725,"i":3.5},{"t":25.775,"i":3.6},{"t":25.825,"i":3.5},{"t":25.875,"i":3.7},{"t":25.925,"i":3.6},{"t":25.975,"i":3.8},{"t":27.125,"i":3.5},{"t":27.175,"i":3.3},{"t":27.225,"i":3.2},{"t":27.275,"i":3.2},{"t":27.325,"i":3.1},{"t":27.375,"i":3.1},{"t":27.425,"i":3.0},{"t":27.475,"i":3.0}],
"g1":[{"t":24,"i":0.3},{"t":25,"i":0.3},{"t":25.6,"i":0.4},{"t":25.94,"i":0.6},{"t":26.14,"i":1.0},{"t":26.24,"i":1.7},{"t":26.3,"i":3.1},{"t":26.34,"i":5.4},{"t":26.38,"i":11.5},{"t":26.4,"i":17.0},{"t":26.42,"i":25.4},{"t":26.44,"i":36.6},{"t":26.46,"i":50.5},{"t":26.48,"i":65.4},{"t":26.5,"i":79.4},{"t":26.52,"i":88.7},{"t":26.54,"i":92.4},{"t":26.56,"i":88.7},{"t":26.58,"i":79.4},{"t":26.6,"i":65.4},{"t":26.62,"i":50.5},{"t":26.64,"i":36.6},{"t":26.66,"i":25.4},{"t":26.68,"i":17.0},{"t":26.7,"i":11.5},{"t":26.74,"i":5.4},{"t":26.78,"i":3.1},{"t":26.84,"i":1.7},{"t":26.94,"i":1.0},{"t":27.14,"i":0.6},{"t":27.5,"i":0.3}],
"g2":[{"t":24,"i":0.8},{"t":25,"i":0.8},{"t":25.6,"i":0.9},{"t":25.94,"i":1.1},{"t":26.14,"i":1.5},{"t":26.24,"i":2.3},{"t":26.3,"i":3.8},{"t":26.34,"i":6.2},{"t":26.38,"i":12.7},{"t":26.4,"i":18.6},{"t":26.42,"i":27.5},{"t":26.44,"i":39.4},{"t":26.46,"i":54.3},{"t":26.48,"i":70.1},{"t":26.5,"i":85.0},{"t":26.52,"i":94.9},{"t":26.54,"i":98.8},{"t":26.56,"i":94.9},{"t":26.58,"i":85.0},{"t":26.6,"i":70.1},{"t":26.62,"i":54.3},{"t":26.64,"i":39.4},{"t":26.66,"i":27.5},{"t":26.68,"i":18.6},{"t":26.7,"i":12.7},{"t":26.74,"i":6.2},{"t":26.78,"i":3.8},{"t":26.84,"i":2.3},{"t":26.94,"i":1.5},{"t":27.14,"i":1.1},{"t":27.5,"i":0.8}],
"g3":[{"t":24,"i":0.3},{"t":25,"i":0.3},{"t":25.6,"i":0.4},{"t":25.94,"i":0.6},{"t":26.14,"i":1.0},{"t":26.24,"i":1.7},{"t":26.3,"i":3.2},{"t":26.34,"i":5.5},{"t":26.38,"i":11.7},{"t":26.4,"i":17.4},{"t":26.42,"i":26.0},{"t":26.44,"i":37.4},{"t":26.46,"i":51.6},{"t":26.48,"i":66.8},{"t":26.5,"i":81.1},{"t":26.52,"i":90.6},{"t":26.54,"i":94.4},{"t":26.56,"i":90.6},{"t":26.58,"i":81.1},{"t":26.6,"i":66.8},{"t":26.62,"i":51.6},{"t":26.64,"i":37.4},{"t":26.66,"i":26.0},{"t":26.68,"i":17.4},{"t":26.7,"i":11.7},{"t":26.74,"i":5.5},{"t":26.78,"i":3.2},{"t":26.84,"i":1.7},{"t":26.94,"i":1.0},{"t":27.14,"i":0.6},{"t":27.5,"i":0.3}],
"g4":[{"t":24,"i":2.8},{"t":25,"i":2.8},{"t":25.6,"i":2.9},{"t":25.94,"i":3.1},{"t":26.14,"i":3.4},{"t":26.24,"i":4.1},{"t":26.3,"i":5.4},{"t":26.34,"i":7.5},{"t":26.38,"i":13.0},{"t":26.4,"i":18.1},{"t":26.42,"i":25.8},{"t":26.44,"i":36.0},{"t":26.46,"i":48.7},{"t":26.48,"i":62.3},{"t":26.5,"i":75.1},{"t":26.52,"i":83.6},{"t":26.54,"i":87.0},{"t":26.56,"i":83.6},{"t":26.58,"i":75.1},{"t":26.6,"i":62.3},{"t":26.62,"i":48.7},{"t":26.64,"i":36.0},{"t":26.66,"i":25.8},{"t":26.68,"i":18.1},{"t":26.7,"i":13.0},{"t":26.74,"i":7.5},{"t":26.78,"i":5.4},{"t":26.84,"i":4.1},{"t":26.94,"i":3.4},{"t":27.14,"i":3.1},{"t":27.5,"i":2.8}],
"g5":[{"t":24,"i":2.3},{"t":25,"i":2.3},{"t":25.6,"i":2.4},{"t":25.94,"i":2.6},{"t":26.14,"i":2.9},{"t":26.24,"i":3.7},{"t":26.3,"i":5.1},{"t":26.34,"i":7.4},{"t":26.38,"i":13.3},{"t":26.4,"i":18.9},{"t":26.42,"i":27.1},{"t":26.44,"i":38.2},{"t":26.46,"i":52.0},{"t":26.48,"i":66.7},{"t":26.5,"i":80.5},{"t":26.52,"i":89.7},{"t":26.54,"i":93.4},{"t":26.56,"i":89.7},{"t":26.58,"i":80.5},{"t":26.6,"i":66.7},{"t":26.62,"i":52.0},{"t":26.64,"i":38.2},{"t":26.66,"i":27.1},{"t":26.68,"i":18.9},{"t":26.7,"i":13.3},{"t":26.74,"i":7.4},{"t":26.78,"i":5.1},{"t":26.84,"i":3.7},{"t":26.94,"i":2.9},{"t":27.14,"i":2.6},{"t":27.5,"i":2.3}],
"g6":[{"t":24,"i":4.3},{"t":25,"i":4.3},{"t":25.6,"i":4.4},{"t":25.94,"i":4.6},{"t":26.14,"i":5.0},{"t":26.24,"i":5.7},{"t":26.3,"i":7.1},{"t":26.34,"i":9.4},{"t":26.38,"i":15.5},{"t":26.4,"i":21.0},{"t":26.42,"i":29.4},{"t":26.44,"i":40.6},{"t":26.46,"i":54.5},{"t":26.48,"i":69.4},{"t":26.5,"i":83.4},{"t":26.52,"i":92.7},{"t":26.54,"i":96.4},{"t":26.56,"i":92.7},{"t":26.58,"i":83.4},{"t":26.6,"i":69.4},{"t":26.62,"i":54.5},{"t":26.64,"i":40.6},{"t":26.66,"i":29.4},{"t":26.68,"i":21.0},{"t":26.7,"i":15.5},{"t":26.74,"i":9.4},{"t":26.78,"i":7.1},{"t":26.84,"i":5.7},{"t":26.94,"i":5.0},{"t":27.14,"i":4.6},{"t":27.5,"i":4.3}],
"g7":[{"t":24.3,"i":0.3},{"t":25,"i":0.3},{"t":25.6,"i":0.4},{"t":25.94,"i":0.6},{"t":26.14,"i":1.0},{"t":26.24,"i":1.7},{"t":26.3,"i":3.1},{"t":26.34,"i":5.4},{"t":26.38,"i":11.5},{"t":26.4,"i":17.0},{"t":26.42,"i":25.4},{"t":26.44,"i":36.6},{"t":26.46,"i":50.5},{"t":26.48,"i":65.4},{"t":26.5,"i":79.4},{"t":26.52,"i":88.7},{"t":26.54,"i":92.4},{"t":26.56,"i":88.7},{"t":26.58,"i":79.4},{"t":26.6,"i":65.4},{"t":26.62,"i":50.5},{"t":26.64,"i":36.6},{"t":26.66,"i":25.4},{"t":26.68,"i":17.0},{"t":26.7,"i":11.5},{"t":26.74,"i":5.4},{"t":26.78,"i":3.1},{"t":26.84,"i":1.7},{"t":26.94,"i":1.0},{"t":27.14,"i":0.6},{"t":27.5,"i":0.3}],
"g8":[{"t":24,"i":2.3},{"t":25,"i":2.3},{"t":25.6,"i":2.4},{"t":25.94,"i":2.6},{"t":26.14,"i":3.0},{"t":26.24,"i":3.7},{"t":26.3,"i":5.2},{"t":26.34,"i":7.5},{"t":26.38,"i":13.7},{"t":26.4,"i":19.4},{"t":26.42,"i":28.0},{"t":26.44,"i":39.4},{"t":26.46,"i":53.6},{"t":26.48,"i":68.8},{"t":26.5,"i":83.1},{"t":26.52,"i":92.6},{"t":26.54,"i":96.4},{"t":26.56,"i":92.6},{"t":26.58,"i":83.1},{"t":26.6,"i":68.8},{"t":26.62,"i":53.6},{"t":26.64,"i":39.4},{"t":26.66,"i":28.0},{"t":26.68,"i":19.4},{"t":26.7,"i":13.7},{"t":26.74,"i":7.5},{"t":26.78,"i":5.2},{"t":26.84,"i":3.7},{"t":26.94,"i":3.0},{"t":27.14,"i":2.6},{"t":27.5,"i":2.3}],
"g9":[{"t":24,"i":2.8},{"t":25,"i":2.8},{"t":25.6,"i":2.9},{"t":25.94,"i":3.1},{"t":26.14,"i":3.5},{"t":26.24,"i":4.2},{"t":26.3,"i":5.6},{"t":26.34,"i":8.0},{"t":26.38,"i":14.1},{"t":26.4,"i":19.7},{"t":26.42,"i":28.2},{"t":26.44,"i":39.5},{"t":26.46,"i":53.6},{"t":26.48,"i":68.6},{"t":26.5,"i":82.7},{"t":26.52,"i":92.1},{"t":26.54,"i":95.9},{"t":26.56,"i":92.1},{"t":26.58,"i":82.7},{"t":26.6,"i":68.6},{"t":26.62,"i":53.6},{"t":26.64,"i":39.5},{"t":26.66,"i":28.2},{"t":26.68,"i":19.7},{"t":26.7,"i":14.1},{"t":26.74,"i":8.0},{"t":26.78,"i":5.6},{"t":26.84,"i":4.2},{"t":26.94,"i":3.5},{"t":27.14,"i":3.1},{"t":27.5,"i":2.8}],
"b3":[{"t":24,"i":0.3},{"t":25,"i":0.3},{"t":25.5,"i":0.5},{"t":25.8,"i":1.3},{"t":26,"i":2.2},{"t":26.1,"i":2.8},{"t":26.2,"i":3.5},{"t":26.3,"i":4.4},{"t":26.36,"i":3.6},{"t":26.42,"i":2.7},{"t":26.5,"i":2.0},{"t":26.6,"i":1.4},{"t":26.7,"i":1.0},{"t":26.8,"i":0.75},{"t":27,"i":0.5},{"t":27.5,"i":0.3}],
"b4":[{"t":24,"i":2.8},{"t":25,"i":2.9},{"t":25.4,"i":3.2},{"t":25.6,"i":3.5},{"t":25.8,"i":4.1},{"t":25.9,"i":4.7},{"t":26,"i":5.6},{"t":26.1,"i":6.8},{"t":26.2,"i":8.6},{"t":26.3,"i":11.0},{"t":26.33,"i":11.4},{"t":26.4,"i":10.4},{"t":26.5,"i":8.2},{"t":26.6,"i":6.3},{"t":26.7,"i":4.4},{"t":26.8,"i":3.6},{"t":26.9,"i":3.2},{"t":27,"i":3.0},{"t":27.5,"i":2.8}],
"b6":[{"t":24,"i":4.3},{"t":25.4,"i":4.3},{"t":25.6,"i":4.6},{"t":25.8,"i":4.9},{"t":26,"i":5.3},{"t":26.2,"i":6.1},{"t":26.3,"i":6.6},{"t":26.4,"i":5.9},{"t":26.5,"i":5.3},{"t":26.6,"i":4.9},{"t":26.8,"i":4.5},{"t":27,"i":4.4},{"t":27.5,"i":4.3}]
},
"columns":3,
"spacing":0,
"bounds":"flush",
"concat":[
{"width":318,"height":231,
"resolve":{"scale":{"x":"independent","y":"independent"},"axis":{"x":"independent","y":"independent"}},
"layer":[
{"layer":[
{"data":{"name":"m1"},"mark":{"type":"line","color":"#000","strokeWidth":1.5},"encoding":{"x":{"field":"t","type":"quantitative","scale":{"domain":[20,65],"nice":false,"zero":false},"axis":{"orient":"bottom","values":[20,30,40,50,60],"labels":false,"title":null,"tickSize":5,"tickWidth":1.5}},"y":{"field":"i","type":"quantitative","scale":{"domain":[-0.036,1],"nice":false,"zero":false},"axis":{"title":"XRD intensity (a.u.)","labels":false,"ticks":false,"titleFontSize":17,"titlePadding":29}}}},
{"data":{"values":[{}]},"mark":{"type":"text","text":"(a)","fontSize":21,"fontWeight":"bold","align":"center","baseline":"middle"},"encoding":{"x":{"datum":16.3,"type":"quantitative"},"y":{"datum":0.987,"type":"quantitative"}}}
]},
{"layer":[
{"data":{"values":[{}]},"mark":{"type":"rect","fill":"#fff","stroke":"#000","strokeWidth":2},"encoding":{"x":{"datum":24,"type":"quantitative","scale":{"domain":[24,27.5],"range":[75,311],"nice":false,"zero":false},"axis":{"orient":"bottom","offset":-59,"values":[24,25,26,27],"format":"d","labelFontSize":15,"labelPadding":3,"tickSize":5,"tickWidth":1.5,"title":null}},"x2":{"datum":27.5},"y":{"datum":-7.7,"type":"quantitative","scale":{"domain":[-7.7,116.9],"range":[172,10],"nice":false,"zero":false},"axis":null},"y2":{"datum":116.9}}},
{"data":{"name":"r1"},"mark":{"type":"point"},"encoding":{"x":{"field":"t","type":"quantitative"},"y":{"field":"i","type":"quantitative"}}},
{"data":{"name":"g1"},"mark":{"type":"line","color":"#f00","strokeWidth":2.5},"encoding":{"x":{"field":"t","type":"quantitative"},"y":{"field":"i","type":"quantitative"}}},
{"data":{"values":[{}]},"mark":{"type":"point"},"encoding":{"x":{"datum":24.45,"type":"quantitative"},"y":{"datum":104,"type":"quantitative"}}},
{"data":{"values":[{}]},"mark":{"type":"rule","color":"#f00","strokeWidth":2.5},"encoding":{"x":{"datum":24.2,"type":"quantitative"},"x2":{"datum":24.7},"y":{"datum":93,"type":"quantitative"}}},
{"data":{"values":[{}]},"mark":{"type":"text","text":["Raw profile","Graphitic","carbon"],"align":"left","baseline":"alphabetic","fontSize":14.5,"lineHeight":14},"encoding":{"x":{"datum":24.8,"type":"quantitative"},"y":{"datum":100.5,"type":"quantitative"}}},
{"data":{"values":[{}]},"mark":{"type":"text","text":"o","font":"Open Sans","fontWeight":"bold","fontStyle":"italic","fontSize":17,"align":"left","baseline":"alphabetic"},"encoding":{"x":{"datum":24.25,"type":"quantitative"},"y":{"datum":25.4,"type":"quantitative"}}},
{"data":{"values":[{}]},"mark":{"type":"text","text":"-LLDPE","font":"Open Sans","fontWeight":"bold","fontSize":17,"align":"left","baseline":"alphabetic"},"encoding":{"x":{"datum":24.41,"type":"quantitative"},"y":{"datum":25.4,"type":"quantitative"}}},
{"data":{"values":[{}]},"mark":{"type":"text","text":"graphite","font":"Open Sans","fontWeight":"bold","fontSize":17,"align":"left","baseline":"alphabetic"},"encoding":{"x":{"datum":24.25,"type":"quantitative"},"y":{"datum":10,"type":"quantitative"}}}
]}
]},
{"width":319,"height":231,
"resolve":{"scale":{"x":"independent","y":"independent"},"axis":{"x":"independent","y":"independent"}},
"layer":[
{"data":{"name":"m2"},"mark":{"type":"line","color":"#000","strokeWidth":1.5},"encoding":{"x":{"field":"t","type":"quantitative","scale":{"domain":[20,65],"nice":false,"zero":false},"axis":{"orient":"bottom","values":[20,30,40,50,60],"labels":false,"title":null,"tickSize":5,"tickWidth":1.5}},"y":{"field":"i","type":"quantitative","scale":{"domain":[-0.036,1],"nice":false,"zero":false},"axis":null}}},
{"layer":[
{"data":{"values":[{}]},"mark":{"type":"rect","fill":"#fff","stroke":"#000","strokeWidth":2},"encoding":{"x":{"datum":24,"type":"quantitative","scale":{"domain":[24,27.5],"range":[75,311],"nice":false,"zero":false},"axis":{"orient":"bottom","offset":-59,"values":[24,25,26,27],"format":"d","labelFontSize":15,"labelPadding":3,"tickSize":5,"tickWidth":1.5,"title":null}},"x2":{"datum":27.5},"y":{"datum":-7.7,"type":"quantitative","scale":{"domain":[-7.7,116.9],"range":[172,10],"nice":false,"zero":false},"axis":null},"y2":{"datum":116.9}}},
{"data":{"name":"r2"},"mark":{"type":"point"},"encoding":{"x":{"field":"t","type":"quantitative"},"y":{"field":"i","type":"quantitative"}}},
{"data":{"name":"g2"},"mark":{"type":"line","color":"#f00","strokeWidth":2.5},"encoding":{"x":{"field":"t","type":"quantitative"},"y":{"field":"i","type":"quantitative"}}},
{"data":{"values":[{}]},"mark":{"type":"point"},"encoding":{"x":{"datum":24.45,"type":"quantitative"},"y":{"datum":104,"type":"quantitative"}}},
{"data":{"values":[{}]},"mark":{"type":"rule","color":"#f00","strokeWidth":2.5},"encoding":{"x":{"datum":24.2,"type":"quantitative"},"x2":{"datum":24.7},"y":{"datum":93,"type":"quantitative"}}},
{"data":{"values":[{}]},"mark":{"type":"text","text":["Raw profile","Graphitic","carbon"],"align":"left","baseline":"alphabetic","fontSize":14.5,"lineHeight":14},"encoding":{"x":{"datum":24.8,"type":"quantitative"},"y":{"datum":100.5,"type":"quantitative"}}},
{"data":{"values":[{}]},"mark":{"type":"text","text":"c","font":"Open Sans","fontWeight":"bold","fontStyle":"italic","fontSize":17,"align":"left","baseline":"alphabetic"},"encoding":{"x":{"datum":24.25,"type":"quantitative"},"y":{"datum":25.4,"type":"quantitative"}}},
{"data":{"values":[{}]},"mark":{"type":"text","text":"-LLDPE","font":"Open Sans","fontWeight":"bold","fontSize":17,"align":"left","baseline":"alphabetic"},"encoding":{"x":{"datum":24.39,"type":"quantitative"},"y":{"datum":25.4,"type":"quantitative"}}},
{"data":{"values":[{}]},"mark":{"type":"text","text":"graphite","font":"Open Sans","fontWeight":"bold","fontSize":17,"align":"left","baseline":"alphabetic"},"encoding":{"x":{"datum":24.25,"type":"quantitative"},"y":{"datum":10,"type":"quantitative"}}}
]}
]},
{"width":312,"height":231,
"resolve":{"scale":{"x":"independent","y":"independent"},"axis":{"x":"independent","y":"independent"}},
"layer":[
{"data":{"name":"m3"},"mark":{"type":"line","color":"#000","strokeWidth":1.5},"encoding":{"x":{"field":"t","type":"quantitative","scale":{"domain":[20,64.1],"nice":false,"zero":false},"axis":{"orient":"bottom","values":[20,30,40,50,60],"labels":false,"title":null,"tickSize":5,"tickWidth":1.5}},"y":{"field":"i","type":"quantitative","scale":{"domain":[-0.036,1],"nice":false,"zero":false},"axis":null}}},
{"layer":[
{"data":{"values":[{}]},"mark":{"type":"rect","fill":"#fff","stroke":"#000","strokeWidth":2},"encoding":{"x":{"datum":24,"type":"quantitative","scale":{"domain":[24,27.5],"range":[75,311],"nice":false,"zero":false},"axis":{"orient":"bottom","offset":-59,"values":[24,25,26,27],"format":"d","labelFontSize":15,"labelPadding":3,"tickSize":5,"tickWidth":1.5,"title":null}},"x2":{"datum":27.5},"y":{"datum":-7.7,"type":"quantitative","scale":{"domain":[-7.7,116.9],"range":[172,10],"nice":false,"zero":false},"axis":null},"y2":{"datum":116.9}}},
{"data":{"name":"r3"},"mark":{"type":"point"},"encoding":{"x":{"field":"t","type":"quantitative"},"y":{"field":"i","type":"quantitative"}}},
{"data":{"name":"g3"},"mark":{"type":"line","color":"#f00","strokeWidth":2.5},"encoding":{"x":{"field":"t","type":"quantitative"},"y":{"field":"i","type":"quantitative"}}},
{"data":{"name":"b3"},"mark":{"type":"line","color":"#00f","strokeWidth":2.5},"encoding":{"x":{"field":"t","type":"quantitative"},"y":{"field":"i","type":"quantitative"}}},
{"data":{"values":[{}]},"mark":{"type":"point"},"encoding":{"x":{"datum":24.45,"type":"quantitative"},"y":{"datum":104,"type":"quantitative"}}},
{"data":{"values":[{}]},"mark":{"type":"rule","color":"#f00","strokeWidth":2.5},"encoding":{"x":{"datum":24.2,"type":"quantitative"},"x2":{"datum":24.7},"y":{"datum":93,"type":"quantitative"}}},
{"data":{"values":[{}]},"mark":{"type":"rule","color":"#00f","strokeWidth":2.5},"encoding":{"x":{"datum":24.2,"type":"quantitative"},"x2":{"datum":24.7},"y":{"datum":71.5,"type":"quantitative"}}},
{"data":{"values":[{}]},"mark":{"type":"text","text":["Raw profile","Graphitic","carbon","Turbostratic","carbon"],"align":"left","baseline":"alphabetic","fontSize":14.5,"lineHeight":14},"encoding":{"x":{"datum":24.8,"type":"quantitative"},"y":{"datum":100.5,"type":"quantitative"}}},
{"data":{"values":[{}]},"mark":{"type":"text","text":"o","font":"Open Sans","fontWeight":"bold","fontStyle":"italic","fontSize":17,"align":"left","baseline":"alphabetic"},"encoding":{"x":{"datum":24.25,"type":"quantitative"},"y":{"datum":25.4,"type":"quantitative"}}},
{"data":{"values":[{}]},"mark":{"type":"text","text":"-LDPE","font":"Open Sans","fontWeight":"bold","fontSize":17,"align":"left","baseline":"alphabetic"},"encoding":{"x":{"datum":24.41,"type":"quantitative"},"y":{"datum":25.4,"type":"quantitative"}}},
{"data":{"values":[{}]},"mark":{"type":"text","text":"graphite","font":"Open Sans","fontWeight":"bold","fontSize":17,"align":"left","baseline":"alphabetic"},"encoding":{"x":{"datum":24.25,"type":"quantitative"},"y":{"datum":10,"type":"quantitative"}}}
]}
]},
{"width":318,"height":234,
"resolve":{"scale":{"x":"independent","y":"independent"},"axis":{"x":"independent","y":"independent"}},
"layer":[
{"data":{"name":"m4"},"mark":{"type":"line","color":"#000","strokeWidth":1.5},"encoding":{"x":{"field":"t","type":"quantitative","scale":{"domain":[20,65],"nice":false,"zero":false},"axis":{"orient":"bottom","values":[20,30,40,50,60],"labels":false,"title":null,"tickSize":5,"tickWidth":1.5}},"y":{"field":"i","type":"quantitative","scale":{"domain":[-0.05,1],"nice":false,"zero":false},"axis":{"title":"XRD intensity (a.u.)","labels":false,"ticks":false,"titleFontSize":17,"titlePadding":29}}}},
{"layer":[
{"data":{"values":[{}]},"mark":{"type":"rect","fill":"#fff","stroke":"#000","strokeWidth":2},"encoding":{"x":{"datum":24,"type":"quantitative","scale":{"domain":[24,27.5],"range":[75,311],"nice":false,"zero":false},"axis":{"orient":"bottom","offset":-60,"values":[24,25,26,27],"format":"d","labelFontSize":15,"labelPadding":3,"tickSize":5,"tickWidth":1.5,"title":null}},"x2":{"datum":27.5},"y":{"datum":-7.7,"type":"quantitative","scale":{"domain":[-7.7,116.9],"range":[174,12],"nice":false,"zero":false},"axis":null},"y2":{"datum":116.9}}},
{"data":{"name":"r4"},"mark":{"type":"point"},"encoding":{"x":{"field":"t","type":"quantitative"},"y":{"field":"i","type":"quantitative"}}},
{"data":{"name":"g4"},"mark":{"type":"line","color":"#f00","strokeWidth":2.5},"encoding":{"x":{"field":"t","type":"quantitative"},"y":{"field":"i","type":"quantitative"}}},
{"data":{"name":"b4"},"mark":{"type":"line","color":"#00f","strokeWidth":2.5},"encoding":{"x":{"field":"t","type":"quantitative"},"y":{"field":"i","type":"quantitative"}}},
{"data":{"values":[{}]},"mark":{"type":"point"},"encoding":{"x":{"datum":24.45,"type":"quantitative"},"y":{"datum":104,"type":"quantitative"}}},
{"data":{"values":[{}]},"mark":{"type":"rule","color":"#f00","strokeWidth":2.5},"encoding":{"x":{"datum":24.2,"type":"quantitative"},"x2":{"datum":24.7},"y":{"datum":93,"type":"quantitative"}}},
{"data":{"values":[{}]},"mark":{"type":"rule","color":"#00f","strokeWidth":2.5},"encoding":{"x":{"datum":24.2,"type":"quantitative"},"x2":{"datum":24.7},"y":{"datum":71.5,"type":"quantitative"}}},
{"data":{"values":[{}]},"mark":{"type":"text","text":["Raw profile","Graphitic","carbon","Turbostratic","carbon"],"align":"left","baseline":"alphabetic","fontSize":14.5,"lineHeight":14},"encoding":{"x":{"datum":24.8,"type":"quantitative"},"y":{"datum":100.5,"type":"quantitative"}}},
{"data":{"values":[{}]},"mark":{"type":"text","text":"o","font":"Open Sans","fontWeight":"bold","fontStyle":"italic","fontSize":17,"align":"left","baseline":"alphabetic"},"encoding":{"x":{"datum":24.25,"type":"quantitative"},"y":{"datum":28.4,"type":"quantitative"}}},
{"data":{"values":[{}]},"mark":{"type":"text","text":"-HDPE","font":"Open Sans","fontWeight":"bold","fontSize":17,"align":"left","baseline":"alphabetic"},"encoding":{"x":{"datum":24.41,"type":"quantitative"},"y":{"datum":28.4,"type":"quantitative"}}},
{"data":{"values":[{}]},"mark":{"type":"text","text":"graphite","font":"Open Sans","fontWeight":"bold","fontSize":17,"align":"left","baseline":"alphabetic"},"encoding":{"x":{"datum":24.25,"type":"quantitative"},"y":{"datum":13,"type":"quantitative"}}}
]}
]},
{"width":319,"height":234,
"resolve":{"scale":{"x":"independent","y":"independent"},"axis":{"x":"independent","y":"independent"}},
"layer":[
{"data":{"name":"m5"},"mark":{"type":"line","color":"#000","strokeWidth":1.5},"encoding":{"x":{"field":"t","type":"quantitative","scale":{"domain":[20,65],"nice":false,"zero":false},"axis":{"orient":"bottom","values":[20,30,40,50,60],"labels":false,"title":null,"tickSize":5,"tickWidth":1.5}},"y":{"field":"i","type":"quantitative","scale":{"domain":[-0.05,1],"nice":false,"zero":false},"axis":null}}},
{"layer":[
{"data":{"values":[{}]},"mark":{"type":"rect","fill":"#fff","stroke":"#000","strokeWidth":2},"encoding":{"x":{"datum":24,"type":"quantitative","scale":{"domain":[24,27.5],"range":[75,311],"nice":false,"zero":false},"axis":{"orient":"bottom","offset":-60,"values":[24,25,26,27],"format":"d","labelFontSize":15,"labelPadding":3,"tickSize":5,"tickWidth":1.5,"title":null}},"x2":{"datum":27.5},"y":{"datum":-7.7,"type":"quantitative","scale":{"domain":[-7.7,116.9],"range":[174,12],"nice":false,"zero":false},"axis":null},"y2":{"datum":116.9}}},
{"data":{"name":"r5"},"mark":{"type":"point"},"encoding":{"x":{"field":"t","type":"quantitative"},"y":{"field":"i","type":"quantitative"}}},
{"data":{"name":"g5"},"mark":{"type":"line","color":"#f00","strokeWidth":2.5},"encoding":{"x":{"field":"t","type":"quantitative"},"y":{"field":"i","type":"quantitative"}}},
{"data":{"values":[{}]},"mark":{"type":"point"},"encoding":{"x":{"datum":24.45,"type":"quantitative"},"y":{"datum":104,"type":"quantitative"}}},
{"data":{"values":[{}]},"mark":{"type":"rule","color":"#f00","strokeWidth":2.5},"encoding":{"x":{"datum":24.2,"type":"quantitative"},"x2":{"datum":24.7},"y":{"datum":93,"type":"quantitative"}}},
{"data":{"values":[{}]},"mark":{"type":"text","text":["Raw profile","Graphitic","carbon"],"align":"left","baseline":"alphabetic","fontSize":14.5,"lineHeight":14},"encoding":{"x":{"datum":24.8,"type":"quantitative"},"y":{"datum":100.5,"type":"quantitative"}}},
{"data":{"values":[{}]},"mark":{"type":"text","text":"o","font":"Open Sans","fontWeight":"bold","fontStyle":"italic","fontSize":17,"align":"left","baseline":"alphabetic"},"encoding":{"x":{"datum":24.25,"type":"quantitative"},"y":{"datum":28.4,"type":"quantitative"}}},
{"data":{"values":[{}]},"mark":{"type":"text","text":"-Real LLDPE","font":"Open Sans","fontWeight":"bold","fontSize":17,"align":"left","baseline":"alphabetic"},"encoding":{"x":{"datum":24.41,"type":"quantitative"},"y":{"datum":28.4,"type":"quantitative"}}},
{"data":{"values":[{}]},"mark":{"type":"text","text":"graphite","font":"Open Sans","fontWeight":"bold","fontSize":17,"align":"left","baseline":"alphabetic"},"encoding":{"x":{"datum":24.25,"type":"quantitative"},"y":{"datum":13,"type":"quantitative"}}}
]}
]},
{"width":312,"height":234,
"resolve":{"scale":{"x":"independent","y":"independent"},"axis":{"x":"independent","y":"independent"}},
"layer":[
{"data":{"name":"m6"},"mark":{"type":"line","color":"#000","strokeWidth":1.5},"encoding":{"x":{"field":"t","type":"quantitative","scale":{"domain":[20,64.1],"nice":false,"zero":false},"axis":{"orient":"bottom","values":[20,30,40,50,60],"labels":false,"title":null,"tickSize":5,"tickWidth":1.5}},"y":{"field":"i","type":"quantitative","scale":{"domain":[-0.05,1],"nice":false,"zero":false},"axis":null}}},
{"layer":[
{"data":{"values":[{}]},"mark":{"type":"rect","fill":"#fff","stroke":"#000","strokeWidth":2},"encoding":{"x":{"datum":24,"type":"quantitative","scale":{"domain":[24,27.5],"range":[75,311],"nice":false,"zero":false},"axis":{"orient":"bottom","offset":-60,"values":[24,25,26,27],"format":"d","labelFontSize":15,"labelPadding":3,"tickSize":5,"tickWidth":1.5,"title":null}},"x2":{"datum":27.5},"y":{"datum":-7.7,"type":"quantitative","scale":{"domain":[-7.7,116.9],"range":[174,12],"nice":false,"zero":false},"axis":null},"y2":{"datum":116.9}}},
{"data":{"name":"r6"},"mark":{"type":"point"},"encoding":{"x":{"field":"t","type":"quantitative"},"y":{"field":"i","type":"quantitative"}}},
{"data":{"name":"g6"},"mark":{"type":"line","color":"#f00","strokeWidth":2.5},"encoding":{"x":{"field":"t","type":"quantitative"},"y":{"field":"i","type":"quantitative"}}},
{"data":{"name":"b6"},"mark":{"type":"line","color":"#00f","strokeWidth":2.5},"encoding":{"x":{"field":"t","type":"quantitative"},"y":{"field":"i","type":"quantitative"}}},
{"data":{"values":[{}]},"mark":{"type":"point"},"encoding":{"x":{"datum":24.45,"type":"quantitative"},"y":{"datum":104,"type":"quantitative"}}},
{"data":{"values":[{}]},"mark":{"type":"rule","color":"#f00","strokeWidth":2.5},"encoding":{"x":{"datum":24.2,"type":"quantitative"},"x2":{"datum":24.7},"y":{"datum":93,"type":"quantitative"}}},
{"data":{"values":[{}]},"mark":{"type":"rule","color":"#00f","strokeWidth":2.5},"encoding":{"x":{"datum":24.2,"type":"quantitative"},"x2":{"datum":24.7},"y":{"datum":71.5,"type":"quantitative"}}},
{"data":{"values":[{}]},"mark":{"type":"text","text":["Raw profile","Graphitic","carbon","Turbostratic","carbon"],"align":"left","baseline":"alphabetic","fontSize":14.5,"lineHeight":14},"encoding":{"x":{"datum":24.8,"type":"quantitative"},"y":{"datum":100.5,"type":"quantitative"}}},
{"data":{"values":[{}]},"mark":{"type":"text","text":"o","font":"Open Sans","fontWeight":"bold","fontStyle":"italic","fontSize":17,"align":"left","baseline":"alphabetic"},"encoding":{"x":{"datum":24.25,"type":"quantitative"},"y":{"datum":28.4,"type":"quantitative"}}},
{"data":{"values":[{}]},"mark":{"type":"text","text":"-Real LDPE","font":"Open Sans","fontWeight":"bold","fontSize":17,"align":"left","baseline":"alphabetic"},"encoding":{"x":{"datum":24.41,"type":"quantitative"},"y":{"datum":28.4,"type":"quantitative"}}},
{"data":{"values":[{}]},"mark":{"type":"text","text":"graphite","font":"Open Sans","fontWeight":"bold","fontSize":17,"align":"left","baseline":"alphabetic"},"encoding":{"x":{"datum":24.25,"type":"quantitative"},"y":{"datum":13,"type":"quantitative"}}}
]}
]},
{"width":318,"height":235,
"resolve":{"scale":{"x":"independent","y":"independent"},"axis":{"x":"independent","y":"independent"}},
"layer":[
{"data":{"name":"m7"},"mark":{"type":"line","color":"#000","strokeWidth":1.5},"encoding":{"x":{"field":"t","type":"quantitative","scale":{"domain":[20,65],"nice":false,"zero":false},"axis":{"orient":"bottom","values":[20,30,40,50,60],"labelFontSize":16,"labelPadding":6,"title":"2 Theta (deg.)","titleFontSize":20,"titlePadding":8,"tickSize":5,"tickWidth":1.5}},"y":{"field":"i","type":"quantitative","scale":{"domain":[-0.05,1],"nice":false,"zero":false},"axis":{"title":"XRD intensity (a.u.)","labels":false,"ticks":false,"titleFontSize":17,"titlePadding":29}}}},
{"layer":[
{"data":{"values":[{}]},"mark":{"type":"rect","fill":"#fff","stroke":"#000","strokeWidth":2},"encoding":{"x":{"datum":24,"type":"quantitative","scale":{"domain":[24,27.5],"range":[75,311],"nice":false,"zero":false},"axis":{"orient":"bottom","offset":-61,"values":[24,25,26,27],"format":"d","labelFontSize":15,"labelPadding":3,"tickSize":5,"tickWidth":1.5,"title":null}},"x2":{"datum":27.5},"y":{"datum":-7.7,"type":"quantitative","scale":{"domain":[-7.7,116.9],"range":[174,11],"nice":false,"zero":false},"axis":null},"y2":{"datum":116.9}}},
{"data":{"name":"r7"},"mark":{"type":"point"},"encoding":{"x":{"field":"t","type":"quantitative"},"y":{"field":"i","type":"quantitative"}}},
{"data":{"name":"g7"},"mark":{"type":"line","color":"#f00","strokeWidth":2.5},"encoding":{"x":{"field":"t","type":"quantitative"},"y":{"field":"i","type":"quantitative"}}},
{"data":{"values":[{}]},"mark":{"type":"point"},"encoding":{"x":{"datum":24.45,"type":"quantitative"},"y":{"datum":104,"type":"quantitative"}}},
{"data":{"values":[{}]},"mark":{"type":"rule","color":"#f00","strokeWidth":2.5},"encoding":{"x":{"datum":24.2,"type":"quantitative"},"x2":{"datum":24.7},"y":{"datum":93,"type":"quantitative"}}},
{"data":{"values":[{}]},"mark":{"type":"text","text":["Raw profile","Graphitic","carbon"],"align":"left","baseline":"alphabetic","fontSize":14.5,"lineHeight":14},"encoding":{"x":{"datum":24.8,"type":"quantitative"},"y":{"datum":100.5,"type":"quantitative"}}},
{"data":{"values":[{}]},"mark":{"type":"text","text":["SP-1 flake","graphite"],"font":"Open Sans","fontWeight":"bold","fontSize":17,"lineHeight":20,"align":"left","baseline":"alphabetic"},"encoding":{"x":{"datum":24.25,"type":"quantitative"},"y":{"datum":28.4,"type":"quantitative"}}}
]}
]},
{"width":319,"height":235,
"resolve":{"scale":{"x":"independent","y":"independent"},"axis":{"x":"independent","y":"independent"}},
"layer":[
{"data":{"name":"m8"},"mark":{"type":"line","color":"#000","strokeWidth":1.5},"encoding":{"x":{"field":"t","type":"quantitative","scale":{"domain":[20,65],"nice":false,"zero":false},"axis":{"orient":"bottom","values":[20,30,40,50,60],"labelFontSize":16,"labelPadding":6,"title":"2 Theta (deg.)","titleFontSize":20,"titlePadding":8,"tickSize":5,"tickWidth":1.5}},"y":{"field":"i","type":"quantitative","scale":{"domain":[-0.05,1],"nice":false,"zero":false},"axis":null}}},
{"layer":[
{"data":{"values":[{}]},"mark":{"type":"rect","fill":"#fff","stroke":"#000","strokeWidth":2},"encoding":{"x":{"datum":24,"type":"quantitative","scale":{"domain":[24,27.5],"range":[75,311],"nice":false,"zero":false},"axis":{"orient":"bottom","offset":-61,"values":[24,25,26,27],"format":"d","labelFontSize":15,"labelPadding":3,"tickSize":5,"tickWidth":1.5,"title":null}},"x2":{"datum":27.5},"y":{"datum":-7.7,"type":"quantitative","scale":{"domain":[-7.7,116.9],"range":[174,11],"nice":false,"zero":false},"axis":null},"y2":{"datum":116.9}}},
{"data":{"name":"r8"},"mark":{"type":"point"},"encoding":{"x":{"field":"t","type":"quantitative"},"y":{"field":"i","type":"quantitative"}}},
{"data":{"name":"g8"},"mark":{"type":"line","color":"#f00","strokeWidth":2.5},"encoding":{"x":{"field":"t","type":"quantitative"},"y":{"field":"i","type":"quantitative"}}},
{"data":{"values":[{}]},"mark":{"type":"point"},"encoding":{"x":{"datum":24.45,"type":"quantitative"},"y":{"datum":104,"type":"quantitative"}}},
{"data":{"values":[{}]},"mark":{"type":"rule","color":"#f00","strokeWidth":2.5},"encoding":{"x":{"datum":24.2,"type":"quantitative"},"x2":{"datum":24.7},"y":{"datum":93,"type":"quantitative"}}},
{"data":{"values":[{}]},"mark":{"type":"text","text":["Raw profile","Graphitic","carbon"],"align":"left","baseline":"alphabetic","fontSize":14.5,"lineHeight":14},"encoding":{"x":{"datum":24.8,"type":"quantitative"},"y":{"datum":100.5,"type":"quantitative"}}},
{"data":{"values":[{}]},"mark":{"type":"text","text":["MTI Artificial","graphite"],"font":"Open Sans","fontWeight":"bold","fontSize":17,"lineHeight":20,"align":"left","baseline":"alphabetic"},"encoding":{"x":{"datum":24.25,"type":"quantitative"},"y":{"datum":28.4,"type":"quantitative"}}}
]}
]},
{"width":312,"height":235,
"resolve":{"scale":{"x":"independent","y":"independent"},"axis":{"x":"independent","y":"independent"}},
"layer":[
{"data":{"name":"m9"},"mark":{"type":"line","color":"#000","strokeWidth":1.5},"encoding":{"x":{"field":"t","type":"quantitative","scale":{"domain":[20,64.1],"nice":false,"zero":false},"axis":{"orient":"bottom","values":[20,30,40,50,60],"labelFontSize":16,"labelPadding":6,"title":"2 Theta (deg.)","titleFontSize":20,"titlePadding":8,"tickSize":5,"tickWidth":1.5}},"y":{"field":"i","type":"quantitative","scale":{"domain":[-0.05,1],"nice":false,"zero":false},"axis":null}}},
{"layer":[
{"data":{"values":[{}]},"mark":{"type":"rect","fill":"#fff","stroke":"#000","strokeWidth":2},"encoding":{"x":{"datum":24,"type":"quantitative","scale":{"domain":[24,27.5],"range":[75,311],"nice":false,"zero":false},"axis":{"orient":"bottom","offset":-61,"values":[24,25,26,27],"format":"d","labelFontSize":15,"labelPadding":3,"tickSize":5,"tickWidth":1.5,"title":null}},"x2":{"datum":27.5},"y":{"datum":-7.7,"type":"quantitative","scale":{"domain":[-7.7,116.9],"range":[174,11],"nice":false,"zero":false},"axis":null},"y2":{"datum":116.9}}},
{"data":{"name":"r9"},"mark":{"type":"point"},"encoding":{"x":{"field":"t","type":"quantitative"},"y":{"field":"i","type":"quantitative"}}},
{"data":{"name":"g9"},"mark":{"type":"line","color":"#f00","strokeWidth":2.5},"encoding":{"x":{"field":"t","type":"quantitative"},"y":{"field":"i","type":"quantitative"}}},
{"data":{"values":[{}]},"mark":{"type":"point"},"encoding":{"x":{"datum":24.45,"type":"quantitative"},"y":{"datum":104,"type":"quantitative"}}},
{"data":{"values":[{}]},"mark":{"type":"rule","color":"#f00","strokeWidth":2.5},"encoding":{"x":{"datum":24.2,"type":"quantitative"},"x2":{"datum":24.7},"y":{"datum":93,"type":"quantitative"}}},
{"data":{"values":[{}]},"mark":{"type":"text","text":["Raw profile","Graphitic","carbon"],"align":"left","baseline":"alphabetic","fontSize":14.5,"lineHeight":14},"encoding":{"x":{"datum":24.8,"type":"quantitative"},"y":{"datum":100.5,"type":"quantitative"}}},
{"data":{"values":[{}]},"mark":{"type":"text","text":["MSE Natural","graphite"],"font":"Open Sans","fontWeight":"bold","fontSize":17,"lineHeight":20,"align":"left","baseline":"alphabetic"},"encoding":{"x":{"datum":24.25,"type":"quantitative"},"y":{"datum":28.4,"type":"quantitative"}}}
]}
]}
]
}
